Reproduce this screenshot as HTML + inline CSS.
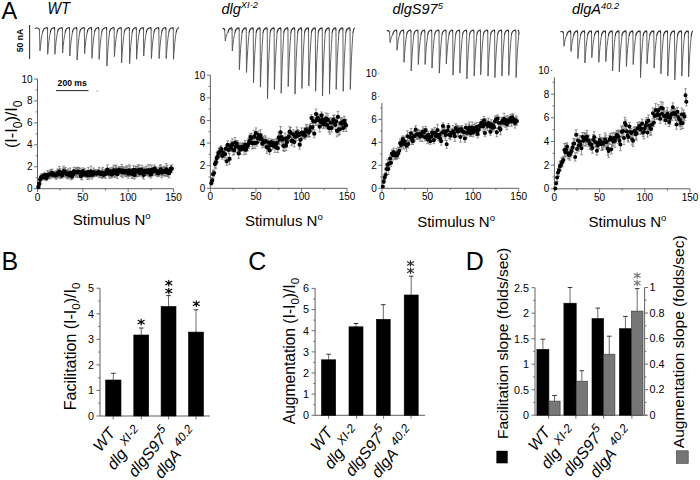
<!DOCTYPE html>
<html><head><meta charset="utf-8"><style>
html,body{margin:0;padding:0;background:#fff;}
svg{display:block;font-family:"Liberation Sans", sans-serif;}
</style></head><body>
<svg width="700" height="480" viewBox="0 0 700 480">
<rect width="700" height="480" fill="#fff"/>
<text x="1.50" y="19.30" font-size="23.5" text-anchor="start" fill="#000" >A</text>
<text x="1.60" y="269.80" font-size="25" text-anchor="start" fill="#000" >B</text>
<text x="248.20" y="269.80" font-size="25" text-anchor="start" fill="#000" >C</text>
<text x="465.80" y="269.70" font-size="25" text-anchor="start" fill="#000" >D</text>
<text x="47.60" y="13.70" font-size="15.6" text-anchor="start" fill="#000" font-style="italic" textLength="22.3" lengthAdjust="spacingAndGlyphs">WT</text>
<text x="221.50" y="13.70" font-size="14.5" text-anchor="start" fill="#000" font-style="italic" >dlg<tspan font-size="9.3" dy="-5.3">XI-2</tspan></text>
<text x="392.50" y="13.70" font-size="14.5" text-anchor="start" fill="#000" font-style="italic" >dlgS97<tspan font-size="9.3" dy="-5">5</tspan></text>
<text x="572.00" y="13.60" font-size="14.5" text-anchor="start" fill="#000" font-style="italic" >dlgA<tspan font-size="9.3" dy="-5">40.2</tspan></text>
<line x1="37.5" y1="79.0" x2="37.5" y2="188.7" stroke="#606060" stroke-width="1"/>
<line x1="33.9" y1="188.70" x2="37.5" y2="188.70" stroke="#606060" stroke-width="0.9"/>
<text x="32.50" y="192.20" font-size="10.0" text-anchor="end" fill="#000" >0</text>
<line x1="35.7" y1="177.73" x2="37.5" y2="177.73" stroke="#606060" stroke-width="0.9"/>
<line x1="33.9" y1="166.76" x2="37.5" y2="166.76" stroke="#606060" stroke-width="0.9"/>
<text x="32.50" y="170.26" font-size="10.0" text-anchor="end" fill="#000" >2</text>
<line x1="35.7" y1="155.79" x2="37.5" y2="155.79" stroke="#606060" stroke-width="0.9"/>
<line x1="33.9" y1="144.82" x2="37.5" y2="144.82" stroke="#606060" stroke-width="0.9"/>
<text x="32.50" y="148.32" font-size="10.0" text-anchor="end" fill="#000" >4</text>
<line x1="35.7" y1="133.85" x2="37.5" y2="133.85" stroke="#606060" stroke-width="0.9"/>
<line x1="33.9" y1="122.88" x2="37.5" y2="122.88" stroke="#606060" stroke-width="0.9"/>
<text x="32.50" y="126.38" font-size="10.0" text-anchor="end" fill="#000" >6</text>
<line x1="35.7" y1="111.91" x2="37.5" y2="111.91" stroke="#606060" stroke-width="0.9"/>
<line x1="33.9" y1="100.94" x2="37.5" y2="100.94" stroke="#606060" stroke-width="0.9"/>
<text x="32.50" y="104.44" font-size="10.0" text-anchor="end" fill="#000" >8</text>
<line x1="35.7" y1="89.97" x2="37.5" y2="89.97" stroke="#606060" stroke-width="0.9"/>
<line x1="33.9" y1="79.00" x2="37.5" y2="79.00" stroke="#606060" stroke-width="0.9"/>
<text x="32.50" y="82.50" font-size="10.0" text-anchor="end" fill="#000" >10</text>
<line x1="37.5" y1="188.7" x2="173.55" y2="188.7" stroke="#606060" stroke-width="1"/>
<line x1="37.50" y1="188.7" x2="37.50" y2="192.1" stroke="#606060" stroke-width="0.9"/>
<text x="37.50" y="200.80" font-size="10.0" text-anchor="middle" fill="#000" >0</text>
<line x1="60.17" y1="188.7" x2="60.17" y2="190.5" stroke="#606060" stroke-width="0.9"/>
<line x1="82.85" y1="188.7" x2="82.85" y2="192.1" stroke="#606060" stroke-width="0.9"/>
<text x="82.85" y="200.80" font-size="10.0" text-anchor="middle" fill="#000" >50</text>
<line x1="105.53" y1="188.7" x2="105.53" y2="190.5" stroke="#606060" stroke-width="0.9"/>
<line x1="128.20" y1="188.7" x2="128.20" y2="192.1" stroke="#606060" stroke-width="0.9"/>
<text x="128.20" y="200.80" font-size="10.0" text-anchor="middle" fill="#000" >100</text>
<line x1="150.88" y1="188.7" x2="150.88" y2="190.5" stroke="#606060" stroke-width="0.9"/>
<line x1="173.55" y1="188.7" x2="173.55" y2="192.1" stroke="#606060" stroke-width="0.9"/>
<text x="173.55" y="200.80" font-size="10.0" text-anchor="middle" fill="#000" >150</text>
<text x="111.70" y="224.60" font-size="15" text-anchor="middle" fill="#000" >Stimulus N<tspan font-size="9.5" dy="-5.6">o</tspan></text>
<line x1="210.4" y1="75.2" x2="210.4" y2="188.3" stroke="#606060" stroke-width="1"/>
<line x1="206.8" y1="188.30" x2="210.4" y2="188.30" stroke="#606060" stroke-width="0.9"/>
<text x="205.40" y="191.80" font-size="10.0" text-anchor="end" fill="#000" >0</text>
<line x1="208.6" y1="176.99" x2="210.4" y2="176.99" stroke="#606060" stroke-width="0.9"/>
<line x1="206.8" y1="165.68" x2="210.4" y2="165.68" stroke="#606060" stroke-width="0.9"/>
<text x="205.40" y="169.18" font-size="10.0" text-anchor="end" fill="#000" >2</text>
<line x1="208.6" y1="154.37" x2="210.4" y2="154.37" stroke="#606060" stroke-width="0.9"/>
<line x1="206.8" y1="143.06" x2="210.4" y2="143.06" stroke="#606060" stroke-width="0.9"/>
<text x="205.40" y="146.56" font-size="10.0" text-anchor="end" fill="#000" >4</text>
<line x1="208.6" y1="131.75" x2="210.4" y2="131.75" stroke="#606060" stroke-width="0.9"/>
<line x1="206.8" y1="120.44" x2="210.4" y2="120.44" stroke="#606060" stroke-width="0.9"/>
<text x="205.40" y="123.94" font-size="10.0" text-anchor="end" fill="#000" >6</text>
<line x1="208.6" y1="109.13" x2="210.4" y2="109.13" stroke="#606060" stroke-width="0.9"/>
<line x1="206.8" y1="97.82" x2="210.4" y2="97.82" stroke="#606060" stroke-width="0.9"/>
<text x="205.40" y="101.32" font-size="10.0" text-anchor="end" fill="#000" >8</text>
<line x1="208.6" y1="86.51" x2="210.4" y2="86.51" stroke="#606060" stroke-width="0.9"/>
<line x1="206.8" y1="75.20" x2="210.4" y2="75.20" stroke="#606060" stroke-width="0.9"/>
<text x="205.40" y="78.70" font-size="10.0" text-anchor="end" fill="#000" >10</text>
<line x1="210.4" y1="188.3" x2="347.05" y2="188.3" stroke="#606060" stroke-width="1"/>
<line x1="210.40" y1="188.3" x2="210.40" y2="191.70000000000002" stroke="#606060" stroke-width="0.9"/>
<text x="210.40" y="200.40" font-size="10.0" text-anchor="middle" fill="#000" >0</text>
<line x1="233.18" y1="188.3" x2="233.18" y2="190.10000000000002" stroke="#606060" stroke-width="0.9"/>
<line x1="255.95" y1="188.3" x2="255.95" y2="191.70000000000002" stroke="#606060" stroke-width="0.9"/>
<text x="255.95" y="200.40" font-size="10.0" text-anchor="middle" fill="#000" >50</text>
<line x1="278.73" y1="188.3" x2="278.73" y2="190.10000000000002" stroke="#606060" stroke-width="0.9"/>
<line x1="301.50" y1="188.3" x2="301.50" y2="191.70000000000002" stroke="#606060" stroke-width="0.9"/>
<text x="301.50" y="200.40" font-size="10.0" text-anchor="middle" fill="#000" >100</text>
<line x1="324.27" y1="188.3" x2="324.27" y2="190.10000000000002" stroke="#606060" stroke-width="0.9"/>
<line x1="347.05" y1="188.3" x2="347.05" y2="191.70000000000002" stroke="#606060" stroke-width="0.9"/>
<text x="347.05" y="200.40" font-size="10.0" text-anchor="middle" fill="#000" >150</text>
<text x="283.80" y="225.60" font-size="15" text-anchor="middle" fill="#000" >Stimulus N<tspan font-size="9.5" dy="-5.6">o</tspan></text>
<line x1="381.9" y1="103.1" x2="381.9" y2="188.3" stroke="#606060" stroke-width="1"/>
<line x1="378.29999999999995" y1="188.30" x2="381.9" y2="188.30" stroke="#606060" stroke-width="0.9"/>
<text x="376.90" y="191.80" font-size="10.0" text-anchor="end" fill="#000" >0</text>
<line x1="380.09999999999997" y1="176.81" x2="381.9" y2="176.81" stroke="#606060" stroke-width="0.9"/>
<line x1="378.29999999999995" y1="165.32" x2="381.9" y2="165.32" stroke="#606060" stroke-width="0.9"/>
<text x="376.90" y="168.82" font-size="10.0" text-anchor="end" fill="#000" >2</text>
<line x1="380.09999999999997" y1="153.83" x2="381.9" y2="153.83" stroke="#606060" stroke-width="0.9"/>
<line x1="378.29999999999995" y1="142.34" x2="381.9" y2="142.34" stroke="#606060" stroke-width="0.9"/>
<text x="376.90" y="145.84" font-size="10.0" text-anchor="end" fill="#000" >4</text>
<line x1="380.09999999999997" y1="130.85" x2="381.9" y2="130.85" stroke="#606060" stroke-width="0.9"/>
<line x1="378.29999999999995" y1="119.36" x2="381.9" y2="119.36" stroke="#606060" stroke-width="0.9"/>
<text x="376.90" y="122.86" font-size="10.0" text-anchor="end" fill="#000" >6</text>
<line x1="380.09999999999997" y1="107.87" x2="381.9" y2="107.87" stroke="#606060" stroke-width="0.9"/>
<line x1="378.29999999999995" y1="96.38" x2="379.4" y2="96.38" stroke="#606060" stroke-width="0.9"/>
<text x="376.90" y="99.88" font-size="10.0" text-anchor="end" fill="#000" >8</text>
<line x1="378.29999999999995" y1="73.40" x2="379.4" y2="73.40" stroke="#606060" stroke-width="0.9"/>
<text x="376.90" y="76.90" font-size="10.0" text-anchor="end" fill="#000" >10</text>
<line x1="381.9" y1="188.3" x2="518.70" y2="188.3" stroke="#606060" stroke-width="1"/>
<line x1="381.90" y1="188.3" x2="381.90" y2="191.70000000000002" stroke="#606060" stroke-width="0.9"/>
<text x="381.90" y="200.40" font-size="10.0" text-anchor="middle" fill="#000" >0</text>
<line x1="404.70" y1="188.3" x2="404.70" y2="190.10000000000002" stroke="#606060" stroke-width="0.9"/>
<line x1="427.50" y1="188.3" x2="427.50" y2="191.70000000000002" stroke="#606060" stroke-width="0.9"/>
<text x="427.50" y="200.40" font-size="10.0" text-anchor="middle" fill="#000" >50</text>
<line x1="450.30" y1="188.3" x2="450.30" y2="190.10000000000002" stroke="#606060" stroke-width="0.9"/>
<line x1="473.10" y1="188.3" x2="473.10" y2="191.70000000000002" stroke="#606060" stroke-width="0.9"/>
<text x="473.10" y="200.40" font-size="10.0" text-anchor="middle" fill="#000" >100</text>
<line x1="495.90" y1="188.3" x2="495.90" y2="190.10000000000002" stroke="#606060" stroke-width="0.9"/>
<line x1="518.70" y1="188.3" x2="518.70" y2="191.70000000000002" stroke="#606060" stroke-width="0.9"/>
<text x="518.70" y="200.40" font-size="10.0" text-anchor="middle" fill="#000" >150</text>
<text x="456.10" y="226.90" font-size="15" text-anchor="middle" fill="#000" >Stimulus N<tspan font-size="9.5" dy="-5.6">o</tspan></text>
<line x1="554.4" y1="77.2" x2="554.4" y2="188.8" stroke="#606060" stroke-width="1"/>
<line x1="550.8" y1="188.80" x2="554.4" y2="188.80" stroke="#606060" stroke-width="0.9"/>
<text x="549.40" y="192.30" font-size="10.0" text-anchor="end" fill="#000" >0</text>
<line x1="552.6" y1="176.97" x2="554.4" y2="176.97" stroke="#606060" stroke-width="0.9"/>
<line x1="550.8" y1="165.14" x2="554.4" y2="165.14" stroke="#606060" stroke-width="0.9"/>
<text x="549.40" y="168.64" font-size="10.0" text-anchor="end" fill="#000" >2</text>
<line x1="552.6" y1="153.31" x2="554.4" y2="153.31" stroke="#606060" stroke-width="0.9"/>
<line x1="550.8" y1="141.48" x2="554.4" y2="141.48" stroke="#606060" stroke-width="0.9"/>
<text x="549.40" y="144.98" font-size="10.0" text-anchor="end" fill="#000" >4</text>
<line x1="552.6" y1="129.65" x2="554.4" y2="129.65" stroke="#606060" stroke-width="0.9"/>
<line x1="550.8" y1="117.82" x2="554.4" y2="117.82" stroke="#606060" stroke-width="0.9"/>
<text x="549.40" y="121.32" font-size="10.0" text-anchor="end" fill="#000" >6</text>
<line x1="552.6" y1="105.99" x2="554.4" y2="105.99" stroke="#606060" stroke-width="0.9"/>
<line x1="550.8" y1="94.16" x2="554.4" y2="94.16" stroke="#606060" stroke-width="0.9"/>
<text x="549.40" y="97.66" font-size="10.0" text-anchor="end" fill="#000" >8</text>
<line x1="552.6" y1="82.33" x2="554.4" y2="82.33" stroke="#606060" stroke-width="0.9"/>
<line x1="550.8" y1="70.50" x2="552.4" y2="70.50" stroke="#606060" stroke-width="0.9"/>
<text x="549.40" y="74.00" font-size="10.0" text-anchor="end" fill="#000" >10</text>
<line x1="554.4" y1="188.8" x2="690.00" y2="188.8" stroke="#606060" stroke-width="1"/>
<line x1="554.40" y1="188.8" x2="554.40" y2="192.20000000000002" stroke="#606060" stroke-width="0.9"/>
<text x="554.40" y="200.90" font-size="10.0" text-anchor="middle" fill="#000" >0</text>
<line x1="577.00" y1="188.8" x2="577.00" y2="190.60000000000002" stroke="#606060" stroke-width="0.9"/>
<line x1="599.60" y1="188.8" x2="599.60" y2="192.20000000000002" stroke="#606060" stroke-width="0.9"/>
<text x="599.60" y="200.90" font-size="10.0" text-anchor="middle" fill="#000" >50</text>
<line x1="622.20" y1="188.8" x2="622.20" y2="190.60000000000002" stroke="#606060" stroke-width="0.9"/>
<line x1="644.80" y1="188.8" x2="644.80" y2="192.20000000000002" stroke="#606060" stroke-width="0.9"/>
<text x="644.80" y="200.90" font-size="10.0" text-anchor="middle" fill="#000" >100</text>
<line x1="667.40" y1="188.8" x2="667.40" y2="190.60000000000002" stroke="#606060" stroke-width="0.9"/>
<line x1="690.00" y1="188.8" x2="690.00" y2="192.20000000000002" stroke="#606060" stroke-width="0.9"/>
<text x="690.00" y="200.90" font-size="10.0" text-anchor="middle" fill="#000" >150</text>
<text x="627.40" y="226.90" font-size="15" text-anchor="middle" fill="#000" >Stimulus N<tspan font-size="9.5" dy="-5.6">o</tspan></text>
<path d="M38.41 185.92V188.19M37.11 185.92h2.6M37.11 188.19h2.6M39.31 182.48V185.05M38.01 182.48h2.6M38.01 185.05h2.6M40.22 177.43V181.32M38.92 177.43h2.6M38.92 181.32h2.6M41.13 174.06V180.31M39.83 174.06h2.6M39.83 180.31h2.6M42.03 174.24V179.03M40.73 174.24h2.6M40.73 179.03h2.6M42.94 173.56V178.60M41.64 173.56h2.6M41.64 178.60h2.6M43.85 175.01V179.76M42.55 175.01h2.6M42.55 179.76h2.6M44.76 172.27V178.15M43.46 172.27h2.6M43.46 178.15h2.6M45.66 174.39V180.73M44.36 174.39h2.6M44.36 180.73h2.6M46.57 174.90V180.52M45.27 174.90h2.6M45.27 180.52h2.6M47.48 170.58V179.29M46.18 170.58h2.6M46.18 179.29h2.6M48.38 172.20V178.34M47.08 172.20h2.6M47.08 178.34h2.6M49.29 171.37V177.83M47.99 171.37h2.6M47.99 177.83h2.6M50.20 169.90V178.73M48.90 169.90h2.6M48.90 178.73h2.6M51.11 169.81V178.03M49.81 169.81h2.6M49.81 178.03h2.6M52.01 169.13V176.56M50.71 169.13h2.6M50.71 176.56h2.6M52.92 172.23V177.52M51.62 172.23h2.6M51.62 177.52h2.6M53.83 171.32V177.42M52.53 171.32h2.6M52.53 177.42h2.6M54.73 171.47V177.92M53.43 171.47h2.6M53.43 177.92h2.6M55.64 171.56V178.95M54.34 171.56h2.6M54.34 178.95h2.6M56.55 170.76V179.17M55.25 170.76h2.6M55.25 179.17h2.6M57.45 169.01V177.76M56.15 169.01h2.6M56.15 177.76h2.6M58.36 169.67V177.51M57.06 169.67h2.6M57.06 177.51h2.6M59.27 166.51V176.94M57.97 166.51h2.6M57.97 176.94h2.6M60.17 168.70V178.62M58.88 168.70h2.6M58.88 178.62h2.6M61.08 171.78V177.41M59.78 171.78h2.6M59.78 177.41h2.6M61.99 172.69V178.19M60.69 172.69h2.6M60.69 178.19h2.6M62.90 167.95V176.25M61.60 167.95h2.6M61.60 176.25h2.6M63.80 166.07V176.22M62.50 166.07h2.6M62.50 176.22h2.6M64.71 168.36V176.86M63.41 168.36h2.6M63.41 176.86h2.6M65.62 167.57V176.85M64.32 167.57h2.6M64.32 176.85h2.6M66.52 169.92V177.94M65.22 169.92h2.6M65.22 177.94h2.6M67.43 169.96V178.85M66.13 169.96h2.6M66.13 178.85h2.6M68.34 168.90V178.60M67.04 168.90h2.6M67.04 178.60h2.6M69.25 172.42V177.66M67.95 172.42h2.6M67.95 177.66h2.6M70.15 168.02V177.15M68.85 168.02h2.6M68.85 177.15h2.6M71.06 171.50V179.71M69.76 171.50h2.6M69.76 179.71h2.6M71.97 173.61V179.29M70.67 173.61h2.6M70.67 179.29h2.6M72.87 171.79V177.06M71.57 171.79h2.6M71.57 177.06h2.6M73.78 167.17V175.62M72.48 167.17h2.6M72.48 175.62h2.6M74.69 169.51V175.53M73.39 169.51h2.6M73.39 175.53h2.6M75.59 167.53V177.12M74.29 167.53h2.6M74.29 177.12h2.6M76.50 168.42V176.15M75.20 168.42h2.6M75.20 176.15h2.6M77.41 167.27V177.37M76.11 167.27h2.6M76.11 177.37h2.6M78.31 167.45V176.18M77.02 167.45h2.6M77.02 176.18h2.6M79.22 167.46V177.53M77.92 167.46h2.6M77.92 177.53h2.6M80.13 168.51V175.75M78.83 168.51h2.6M78.83 175.75h2.6M81.04 172.80V179.18M79.74 172.80h2.6M79.74 179.18h2.6M81.94 170.90V179.81M80.64 170.90h2.6M80.64 179.81h2.6M82.85 167.82V174.71M81.55 167.82h2.6M81.55 174.71h2.6M83.76 169.74V176.41M82.46 169.74h2.6M82.46 176.41h2.6M84.66 168.55V176.63M83.36 168.55h2.6M83.36 176.63h2.6M85.57 171.85V177.03M84.27 171.85h2.6M84.27 177.03h2.6M86.48 170.48V177.65M85.18 170.48h2.6M85.18 177.65h2.6M87.39 170.09V179.32M86.09 170.09h2.6M86.09 179.32h2.6M88.29 167.42V176.74M86.99 167.42h2.6M86.99 176.74h2.6M89.20 171.52V179.23M87.90 171.52h2.6M87.90 179.23h2.6M90.11 170.75V176.41M88.81 170.75h2.6M88.81 176.41h2.6M91.01 166.05V176.67M89.71 166.05h2.6M89.71 176.67h2.6M91.92 170.55V179.06M90.62 170.55h2.6M90.62 179.06h2.6M92.83 171.65V177.26M91.53 171.65h2.6M91.53 177.26h2.6M93.73 167.98V176.86M92.43 167.98h2.6M92.43 176.86h2.6M94.64 169.49V176.14M93.34 169.49h2.6M93.34 176.14h2.6M95.55 169.93V176.26M94.25 169.93h2.6M94.25 176.26h2.6M96.45 170.83V176.25M95.16 170.83h2.6M95.16 176.25h2.6M97.36 169.71V176.05M96.06 169.71h2.6M96.06 176.05h2.6M98.27 169.20V175.15M96.97 169.20h2.6M96.97 175.15h2.6M99.18 167.42V177.47M97.88 167.42h2.6M97.88 177.47h2.6M100.08 170.61V177.10M98.78 170.61h2.6M98.78 177.10h2.6M100.99 170.29V177.24M99.69 170.29h2.6M99.69 177.24h2.6M101.90 169.06V178.35M100.60 169.06h2.6M100.60 178.35h2.6M102.80 167.40V177.92M101.50 167.40h2.6M101.50 177.92h2.6M103.71 172.09V177.51M102.41 172.09h2.6M102.41 177.51h2.6M104.62 169.78V175.90M103.32 169.78h2.6M103.32 175.90h2.6M105.53 169.22V178.37M104.23 169.22h2.6M104.23 178.37h2.6M106.43 168.93V175.54M105.13 168.93h2.6M105.13 175.54h2.6M107.34 165.00V174.38M106.04 165.00h2.6M106.04 174.38h2.6M108.25 169.44V175.84M106.95 169.44h2.6M106.95 175.84h2.6M109.15 169.50V177.41M107.85 169.50h2.6M107.85 177.41h2.6M110.06 168.14V178.29M108.76 168.14h2.6M108.76 178.29h2.6M110.97 167.86V175.22M109.67 167.86h2.6M109.67 175.22h2.6M111.87 171.13V177.88M110.57 171.13h2.6M110.57 177.88h2.6M112.78 167.08V175.87M111.48 167.08h2.6M111.48 175.87h2.6M113.69 165.14V175.71M112.39 165.14h2.6M112.39 175.71h2.6M114.59 168.14V177.66M113.30 168.14h2.6M113.30 177.66h2.6M115.50 165.79V176.97M114.20 165.79h2.6M114.20 176.97h2.6M116.41 165.21V175.93M115.11 165.21h2.6M115.11 175.93h2.6M117.32 169.74V178.36M116.02 169.74h2.6M116.02 178.36h2.6M118.22 167.68V175.50M116.92 167.68h2.6M116.92 175.50h2.6M119.13 166.69V173.30M117.83 166.69h2.6M117.83 173.30h2.6M120.04 166.77V174.45M118.74 166.77h2.6M118.74 174.45h2.6M120.94 166.83V176.38M119.64 166.83h2.6M119.64 176.38h2.6M121.85 164.63V176.10M120.55 164.63h2.6M120.55 176.10h2.6M122.76 167.00V177.67M121.46 167.00h2.6M121.46 177.67h2.6M123.67 166.94V174.39M122.37 166.94h2.6M122.37 174.39h2.6M124.57 168.97V175.84M123.27 168.97h2.6M123.27 175.84h2.6M125.48 167.20V176.33M124.18 167.20h2.6M124.18 176.33h2.6M126.39 165.82V176.63M125.09 165.82h2.6M125.09 176.63h2.6M127.29 166.57V176.05M125.99 166.57h2.6M125.99 176.05h2.6M128.20 169.07V178.17M126.90 169.07h2.6M126.90 178.17h2.6M129.11 164.79V176.07M127.81 164.79h2.6M127.81 176.07h2.6M130.01 166.04V176.27M128.71 166.04h2.6M128.71 176.27h2.6M130.92 168.86V175.56M129.62 168.86h2.6M129.62 175.56h2.6M131.83 169.35V178.30M130.53 169.35h2.6M130.53 178.30h2.6M132.74 168.47V178.45M131.44 168.47h2.6M131.44 178.45h2.6M133.64 165.63V174.27M132.34 165.63h2.6M132.34 174.27h2.6M134.55 170.93V179.03M133.25 170.93h2.6M133.25 179.03h2.6M135.46 166.47V173.83M134.16 166.47h2.6M134.16 173.83h2.6M136.36 166.25V176.90M135.06 166.25h2.6M135.06 176.90h2.6M137.27 166.47V176.63M135.97 166.47h2.6M135.97 176.63h2.6M138.18 164.69V176.32M136.88 164.69h2.6M136.88 176.32h2.6M139.08 164.95V175.03M137.78 164.95h2.6M137.78 175.03h2.6M139.99 170.09V176.24M138.69 170.09h2.6M138.69 176.24h2.6M140.90 167.46V173.82M139.60 167.46h2.6M139.60 173.82h2.6M141.81 165.37V174.73M140.50 165.37h2.6M140.50 174.73h2.6M142.71 167.27V177.62M141.41 167.27h2.6M141.41 177.62h2.6M143.62 170.36V179.04M142.32 170.36h2.6M142.32 179.04h2.6M144.53 167.22V174.54M143.23 167.22h2.6M143.23 174.54h2.6M145.43 168.51V175.59M144.13 168.51h2.6M144.13 175.59h2.6M146.34 166.17V175.51M145.04 166.17h2.6M145.04 175.51h2.6M147.25 168.76V175.29M145.95 168.76h2.6M145.95 175.29h2.6M148.15 164.71V176.02M146.85 164.71h2.6M146.85 176.02h2.6M149.06 168.47V176.97M147.76 168.47h2.6M147.76 176.97h2.6M149.97 164.79V176.05M148.67 164.79h2.6M148.67 176.05h2.6M150.88 170.69V178.09M149.57 170.69h2.6M149.57 178.09h2.6M151.78 165.28V174.67M150.48 165.28h2.6M150.48 174.67h2.6M152.69 167.57V175.80M151.39 167.57h2.6M151.39 175.80h2.6M153.60 167.86V174.87M152.30 167.86h2.6M152.30 174.87h2.6M154.50 164.98V172.38M153.20 164.98h2.6M153.20 172.38h2.6M155.41 166.76V175.41M154.11 166.76h2.6M154.11 175.41h2.6M156.32 167.43V175.21M155.02 167.43h2.6M155.02 175.21h2.6M157.22 168.63V176.82M155.92 168.63h2.6M155.92 176.82h2.6M158.13 170.15V176.19M156.83 170.15h2.6M156.83 176.19h2.6M159.04 167.12V176.01M157.74 167.12h2.6M157.74 176.01h2.6M159.94 165.36V175.82M158.64 165.36h2.6M158.64 175.82h2.6M160.85 164.71V173.97M159.55 164.71h2.6M159.55 173.97h2.6M161.76 167.53V177.69M160.46 167.53h2.6M160.46 177.69h2.6M162.67 166.96V175.40M161.37 166.96h2.6M161.37 175.40h2.6M163.57 167.10V175.79M162.27 167.10h2.6M162.27 175.79h2.6M164.48 166.27V176.03M163.18 166.27h2.6M163.18 176.03h2.6M165.39 167.51V175.91M164.09 167.51h2.6M164.09 175.91h2.6M166.29 163.66V175.32M164.99 163.66h2.6M164.99 175.32h2.6M167.20 165.30V176.50M165.90 165.30h2.6M165.90 176.50h2.6M168.11 169.27V176.19M166.81 169.27h2.6M166.81 176.19h2.6M169.02 168.35V177.89M167.72 168.35h2.6M167.72 177.89h2.6M169.92 167.75V174.59M168.62 167.75h2.6M168.62 174.59h2.6M170.83 165.36V172.21M169.53 165.36h2.6M169.53 172.21h2.6M171.74 164.92V172.70M170.44 164.92h2.6M170.44 172.70h2.6" stroke="#707070" stroke-width="0.75" fill="none"/>
<path d="M36.21 187.05a2.2 2.2 0 1 0 4.4 0a2.2 2.2 0 1 0 -4.4 0M37.11 183.76a2.2 2.2 0 1 0 4.4 0a2.2 2.2 0 1 0 -4.4 0M38.02 179.38a2.2 2.2 0 1 0 4.4 0a2.2 2.2 0 1 0 -4.4 0M38.93 177.18a2.2 2.2 0 1 0 4.4 0a2.2 2.2 0 1 0 -4.4 0M39.83 176.63a2.2 2.2 0 1 0 4.4 0a2.2 2.2 0 1 0 -4.4 0M40.74 176.08a2.2 2.2 0 1 0 4.4 0a2.2 2.2 0 1 0 -4.4 0M41.65 177.38a2.2 2.2 0 1 0 4.4 0a2.2 2.2 0 1 0 -4.4 0M42.56 175.21a2.2 2.2 0 1 0 4.4 0a2.2 2.2 0 1 0 -4.4 0M43.46 177.56a2.2 2.2 0 1 0 4.4 0a2.2 2.2 0 1 0 -4.4 0M44.37 177.71a2.2 2.2 0 1 0 4.4 0a2.2 2.2 0 1 0 -4.4 0M45.28 174.94a2.2 2.2 0 1 0 4.4 0a2.2 2.2 0 1 0 -4.4 0M46.18 175.27a2.2 2.2 0 1 0 4.4 0a2.2 2.2 0 1 0 -4.4 0M47.09 174.60a2.2 2.2 0 1 0 4.4 0a2.2 2.2 0 1 0 -4.4 0M48.00 174.32a2.2 2.2 0 1 0 4.4 0a2.2 2.2 0 1 0 -4.4 0M48.91 173.92a2.2 2.2 0 1 0 4.4 0a2.2 2.2 0 1 0 -4.4 0M49.81 172.84a2.2 2.2 0 1 0 4.4 0a2.2 2.2 0 1 0 -4.4 0M50.72 174.87a2.2 2.2 0 1 0 4.4 0a2.2 2.2 0 1 0 -4.4 0M51.63 174.37a2.2 2.2 0 1 0 4.4 0a2.2 2.2 0 1 0 -4.4 0M52.53 174.69a2.2 2.2 0 1 0 4.4 0a2.2 2.2 0 1 0 -4.4 0M53.44 175.26a2.2 2.2 0 1 0 4.4 0a2.2 2.2 0 1 0 -4.4 0M54.35 174.97a2.2 2.2 0 1 0 4.4 0a2.2 2.2 0 1 0 -4.4 0M55.25 173.39a2.2 2.2 0 1 0 4.4 0a2.2 2.2 0 1 0 -4.4 0M56.16 173.59a2.2 2.2 0 1 0 4.4 0a2.2 2.2 0 1 0 -4.4 0M57.07 171.72a2.2 2.2 0 1 0 4.4 0a2.2 2.2 0 1 0 -4.4 0M57.97 173.66a2.2 2.2 0 1 0 4.4 0a2.2 2.2 0 1 0 -4.4 0M58.88 174.60a2.2 2.2 0 1 0 4.4 0a2.2 2.2 0 1 0 -4.4 0M59.79 175.44a2.2 2.2 0 1 0 4.4 0a2.2 2.2 0 1 0 -4.4 0M60.70 172.10a2.2 2.2 0 1 0 4.4 0a2.2 2.2 0 1 0 -4.4 0M61.60 171.14a2.2 2.2 0 1 0 4.4 0a2.2 2.2 0 1 0 -4.4 0M62.51 172.61a2.2 2.2 0 1 0 4.4 0a2.2 2.2 0 1 0 -4.4 0M63.42 172.21a2.2 2.2 0 1 0 4.4 0a2.2 2.2 0 1 0 -4.4 0M64.32 173.93a2.2 2.2 0 1 0 4.4 0a2.2 2.2 0 1 0 -4.4 0M65.23 174.40a2.2 2.2 0 1 0 4.4 0a2.2 2.2 0 1 0 -4.4 0M66.14 173.75a2.2 2.2 0 1 0 4.4 0a2.2 2.2 0 1 0 -4.4 0M67.05 175.04a2.2 2.2 0 1 0 4.4 0a2.2 2.2 0 1 0 -4.4 0M67.95 172.58a2.2 2.2 0 1 0 4.4 0a2.2 2.2 0 1 0 -4.4 0M68.86 175.60a2.2 2.2 0 1 0 4.4 0a2.2 2.2 0 1 0 -4.4 0M69.77 176.45a2.2 2.2 0 1 0 4.4 0a2.2 2.2 0 1 0 -4.4 0M70.67 174.42a2.2 2.2 0 1 0 4.4 0a2.2 2.2 0 1 0 -4.4 0M71.58 171.40a2.2 2.2 0 1 0 4.4 0a2.2 2.2 0 1 0 -4.4 0M72.49 172.52a2.2 2.2 0 1 0 4.4 0a2.2 2.2 0 1 0 -4.4 0M73.39 172.33a2.2 2.2 0 1 0 4.4 0a2.2 2.2 0 1 0 -4.4 0M74.30 172.28a2.2 2.2 0 1 0 4.4 0a2.2 2.2 0 1 0 -4.4 0M75.21 172.32a2.2 2.2 0 1 0 4.4 0a2.2 2.2 0 1 0 -4.4 0M76.11 171.82a2.2 2.2 0 1 0 4.4 0a2.2 2.2 0 1 0 -4.4 0M77.02 172.50a2.2 2.2 0 1 0 4.4 0a2.2 2.2 0 1 0 -4.4 0M77.93 172.13a2.2 2.2 0 1 0 4.4 0a2.2 2.2 0 1 0 -4.4 0M78.84 175.99a2.2 2.2 0 1 0 4.4 0a2.2 2.2 0 1 0 -4.4 0M79.74 175.35a2.2 2.2 0 1 0 4.4 0a2.2 2.2 0 1 0 -4.4 0M80.65 171.27a2.2 2.2 0 1 0 4.4 0a2.2 2.2 0 1 0 -4.4 0M81.56 173.08a2.2 2.2 0 1 0 4.4 0a2.2 2.2 0 1 0 -4.4 0M82.46 172.59a2.2 2.2 0 1 0 4.4 0a2.2 2.2 0 1 0 -4.4 0M83.37 174.44a2.2 2.2 0 1 0 4.4 0a2.2 2.2 0 1 0 -4.4 0M84.28 174.07a2.2 2.2 0 1 0 4.4 0a2.2 2.2 0 1 0 -4.4 0M85.19 174.71a2.2 2.2 0 1 0 4.4 0a2.2 2.2 0 1 0 -4.4 0M86.09 172.08a2.2 2.2 0 1 0 4.4 0a2.2 2.2 0 1 0 -4.4 0M87.00 175.38a2.2 2.2 0 1 0 4.4 0a2.2 2.2 0 1 0 -4.4 0M87.91 173.58a2.2 2.2 0 1 0 4.4 0a2.2 2.2 0 1 0 -4.4 0M88.81 171.36a2.2 2.2 0 1 0 4.4 0a2.2 2.2 0 1 0 -4.4 0M89.72 174.81a2.2 2.2 0 1 0 4.4 0a2.2 2.2 0 1 0 -4.4 0M90.63 174.45a2.2 2.2 0 1 0 4.4 0a2.2 2.2 0 1 0 -4.4 0M91.53 172.42a2.2 2.2 0 1 0 4.4 0a2.2 2.2 0 1 0 -4.4 0M92.44 172.82a2.2 2.2 0 1 0 4.4 0a2.2 2.2 0 1 0 -4.4 0M93.35 173.10a2.2 2.2 0 1 0 4.4 0a2.2 2.2 0 1 0 -4.4 0M94.25 173.54a2.2 2.2 0 1 0 4.4 0a2.2 2.2 0 1 0 -4.4 0M95.16 172.88a2.2 2.2 0 1 0 4.4 0a2.2 2.2 0 1 0 -4.4 0M96.07 172.18a2.2 2.2 0 1 0 4.4 0a2.2 2.2 0 1 0 -4.4 0M96.98 172.45a2.2 2.2 0 1 0 4.4 0a2.2 2.2 0 1 0 -4.4 0M97.88 173.85a2.2 2.2 0 1 0 4.4 0a2.2 2.2 0 1 0 -4.4 0M98.79 173.76a2.2 2.2 0 1 0 4.4 0a2.2 2.2 0 1 0 -4.4 0M99.70 173.70a2.2 2.2 0 1 0 4.4 0a2.2 2.2 0 1 0 -4.4 0M100.60 172.66a2.2 2.2 0 1 0 4.4 0a2.2 2.2 0 1 0 -4.4 0M101.51 174.80a2.2 2.2 0 1 0 4.4 0a2.2 2.2 0 1 0 -4.4 0M102.42 172.84a2.2 2.2 0 1 0 4.4 0a2.2 2.2 0 1 0 -4.4 0M103.33 173.79a2.2 2.2 0 1 0 4.4 0a2.2 2.2 0 1 0 -4.4 0M104.23 172.23a2.2 2.2 0 1 0 4.4 0a2.2 2.2 0 1 0 -4.4 0M105.14 169.69a2.2 2.2 0 1 0 4.4 0a2.2 2.2 0 1 0 -4.4 0M106.05 172.64a2.2 2.2 0 1 0 4.4 0a2.2 2.2 0 1 0 -4.4 0M106.95 173.46a2.2 2.2 0 1 0 4.4 0a2.2 2.2 0 1 0 -4.4 0M107.86 173.21a2.2 2.2 0 1 0 4.4 0a2.2 2.2 0 1 0 -4.4 0M108.77 171.54a2.2 2.2 0 1 0 4.4 0a2.2 2.2 0 1 0 -4.4 0M109.67 174.50a2.2 2.2 0 1 0 4.4 0a2.2 2.2 0 1 0 -4.4 0M110.58 171.47a2.2 2.2 0 1 0 4.4 0a2.2 2.2 0 1 0 -4.4 0M111.49 170.43a2.2 2.2 0 1 0 4.4 0a2.2 2.2 0 1 0 -4.4 0M112.39 172.90a2.2 2.2 0 1 0 4.4 0a2.2 2.2 0 1 0 -4.4 0M113.30 171.38a2.2 2.2 0 1 0 4.4 0a2.2 2.2 0 1 0 -4.4 0M114.21 170.57a2.2 2.2 0 1 0 4.4 0a2.2 2.2 0 1 0 -4.4 0M115.12 174.05a2.2 2.2 0 1 0 4.4 0a2.2 2.2 0 1 0 -4.4 0M116.02 171.59a2.2 2.2 0 1 0 4.4 0a2.2 2.2 0 1 0 -4.4 0M116.93 169.99a2.2 2.2 0 1 0 4.4 0a2.2 2.2 0 1 0 -4.4 0M117.84 170.61a2.2 2.2 0 1 0 4.4 0a2.2 2.2 0 1 0 -4.4 0M118.74 171.60a2.2 2.2 0 1 0 4.4 0a2.2 2.2 0 1 0 -4.4 0M119.65 170.37a2.2 2.2 0 1 0 4.4 0a2.2 2.2 0 1 0 -4.4 0M120.56 172.33a2.2 2.2 0 1 0 4.4 0a2.2 2.2 0 1 0 -4.4 0M121.47 170.67a2.2 2.2 0 1 0 4.4 0a2.2 2.2 0 1 0 -4.4 0M122.37 172.40a2.2 2.2 0 1 0 4.4 0a2.2 2.2 0 1 0 -4.4 0M123.28 171.76a2.2 2.2 0 1 0 4.4 0a2.2 2.2 0 1 0 -4.4 0M124.19 171.22a2.2 2.2 0 1 0 4.4 0a2.2 2.2 0 1 0 -4.4 0M125.09 171.31a2.2 2.2 0 1 0 4.4 0a2.2 2.2 0 1 0 -4.4 0M126.00 173.62a2.2 2.2 0 1 0 4.4 0a2.2 2.2 0 1 0 -4.4 0M126.91 170.43a2.2 2.2 0 1 0 4.4 0a2.2 2.2 0 1 0 -4.4 0M127.81 171.16a2.2 2.2 0 1 0 4.4 0a2.2 2.2 0 1 0 -4.4 0M128.72 172.21a2.2 2.2 0 1 0 4.4 0a2.2 2.2 0 1 0 -4.4 0M129.63 173.83a2.2 2.2 0 1 0 4.4 0a2.2 2.2 0 1 0 -4.4 0M130.54 173.46a2.2 2.2 0 1 0 4.4 0a2.2 2.2 0 1 0 -4.4 0M131.44 169.95a2.2 2.2 0 1 0 4.4 0a2.2 2.2 0 1 0 -4.4 0M132.35 174.98a2.2 2.2 0 1 0 4.4 0a2.2 2.2 0 1 0 -4.4 0M133.26 170.15a2.2 2.2 0 1 0 4.4 0a2.2 2.2 0 1 0 -4.4 0M134.16 171.58a2.2 2.2 0 1 0 4.4 0a2.2 2.2 0 1 0 -4.4 0M135.07 171.55a2.2 2.2 0 1 0 4.4 0a2.2 2.2 0 1 0 -4.4 0M135.98 170.50a2.2 2.2 0 1 0 4.4 0a2.2 2.2 0 1 0 -4.4 0M136.88 169.99a2.2 2.2 0 1 0 4.4 0a2.2 2.2 0 1 0 -4.4 0M137.79 173.16a2.2 2.2 0 1 0 4.4 0a2.2 2.2 0 1 0 -4.4 0M138.70 170.64a2.2 2.2 0 1 0 4.4 0a2.2 2.2 0 1 0 -4.4 0M139.61 170.05a2.2 2.2 0 1 0 4.4 0a2.2 2.2 0 1 0 -4.4 0M140.51 172.45a2.2 2.2 0 1 0 4.4 0a2.2 2.2 0 1 0 -4.4 0M141.42 174.70a2.2 2.2 0 1 0 4.4 0a2.2 2.2 0 1 0 -4.4 0M142.33 170.88a2.2 2.2 0 1 0 4.4 0a2.2 2.2 0 1 0 -4.4 0M143.23 172.05a2.2 2.2 0 1 0 4.4 0a2.2 2.2 0 1 0 -4.4 0M144.14 170.84a2.2 2.2 0 1 0 4.4 0a2.2 2.2 0 1 0 -4.4 0M145.05 172.03a2.2 2.2 0 1 0 4.4 0a2.2 2.2 0 1 0 -4.4 0M145.95 170.37a2.2 2.2 0 1 0 4.4 0a2.2 2.2 0 1 0 -4.4 0M146.86 172.72a2.2 2.2 0 1 0 4.4 0a2.2 2.2 0 1 0 -4.4 0M147.77 170.42a2.2 2.2 0 1 0 4.4 0a2.2 2.2 0 1 0 -4.4 0M148.68 174.39a2.2 2.2 0 1 0 4.4 0a2.2 2.2 0 1 0 -4.4 0M149.58 169.97a2.2 2.2 0 1 0 4.4 0a2.2 2.2 0 1 0 -4.4 0M150.49 171.69a2.2 2.2 0 1 0 4.4 0a2.2 2.2 0 1 0 -4.4 0M151.40 171.36a2.2 2.2 0 1 0 4.4 0a2.2 2.2 0 1 0 -4.4 0M152.30 168.68a2.2 2.2 0 1 0 4.4 0a2.2 2.2 0 1 0 -4.4 0M153.21 171.08a2.2 2.2 0 1 0 4.4 0a2.2 2.2 0 1 0 -4.4 0M154.12 171.32a2.2 2.2 0 1 0 4.4 0a2.2 2.2 0 1 0 -4.4 0M155.02 172.73a2.2 2.2 0 1 0 4.4 0a2.2 2.2 0 1 0 -4.4 0M155.93 173.17a2.2 2.2 0 1 0 4.4 0a2.2 2.2 0 1 0 -4.4 0M156.84 171.56a2.2 2.2 0 1 0 4.4 0a2.2 2.2 0 1 0 -4.4 0M157.75 170.59a2.2 2.2 0 1 0 4.4 0a2.2 2.2 0 1 0 -4.4 0M158.65 169.34a2.2 2.2 0 1 0 4.4 0a2.2 2.2 0 1 0 -4.4 0M159.56 172.61a2.2 2.2 0 1 0 4.4 0a2.2 2.2 0 1 0 -4.4 0M160.47 171.18a2.2 2.2 0 1 0 4.4 0a2.2 2.2 0 1 0 -4.4 0M161.37 171.45a2.2 2.2 0 1 0 4.4 0a2.2 2.2 0 1 0 -4.4 0M162.28 171.15a2.2 2.2 0 1 0 4.4 0a2.2 2.2 0 1 0 -4.4 0M163.19 171.71a2.2 2.2 0 1 0 4.4 0a2.2 2.2 0 1 0 -4.4 0M164.09 169.49a2.2 2.2 0 1 0 4.4 0a2.2 2.2 0 1 0 -4.4 0M165.00 170.90a2.2 2.2 0 1 0 4.4 0a2.2 2.2 0 1 0 -4.4 0M165.91 172.73a2.2 2.2 0 1 0 4.4 0a2.2 2.2 0 1 0 -4.4 0M166.82 173.12a2.2 2.2 0 1 0 4.4 0a2.2 2.2 0 1 0 -4.4 0M167.72 171.17a2.2 2.2 0 1 0 4.4 0a2.2 2.2 0 1 0 -4.4 0M168.63 168.79a2.2 2.2 0 1 0 4.4 0a2.2 2.2 0 1 0 -4.4 0M169.54 168.81a2.2 2.2 0 1 0 4.4 0a2.2 2.2 0 1 0 -4.4 0" fill="#000"/>
<path d="M211.31 181.13V185.30M210.01 181.13h2.6M210.01 185.30h2.6M212.22 177.44V183.32M210.92 177.44h2.6M210.92 183.32h2.6M213.13 170.13V178.20M211.83 170.13h2.6M211.83 178.20h2.6M214.04 169.95V176.11M212.74 169.95h2.6M212.74 176.11h2.6M214.96 160.03V167.93M213.66 160.03h2.6M213.66 167.93h2.6M215.87 156.25V168.33M214.57 156.25h2.6M214.57 168.33h2.6M216.78 152.18V164.47M215.48 152.18h2.6M215.48 164.47h2.6M217.69 150.93V162.33M216.39 150.93h2.6M216.39 162.33h2.6M218.60 148.44V158.03M217.30 148.44h2.6M217.30 158.03h2.6M219.51 147.82V156.40M218.21 147.82h2.6M218.21 156.40h2.6M220.42 146.28V157.04M219.12 146.28h2.6M219.12 157.04h2.6M221.33 145.78V152.54M220.03 145.78h2.6M220.03 152.54h2.6M222.24 152.41V159.17M220.94 152.41h2.6M220.94 159.17h2.6M223.15 148.54V157.08M221.85 148.54h2.6M221.85 157.08h2.6M224.06 150.75V157.77M222.76 150.75h2.6M222.76 157.77h2.6M224.98 148.19V160.46M223.68 148.19h2.6M223.68 160.46h2.6M225.89 145.13V152.38M224.59 145.13h2.6M224.59 152.38h2.6M226.80 157.21V165.37M225.50 157.21h2.6M225.50 165.37h2.6M227.71 140.86V149.05M226.41 140.86h2.6M226.41 149.05h2.6M228.62 146.20V153.59M227.32 146.20h2.6M227.32 153.59h2.6M229.53 153.25V164.56M228.23 153.25h2.6M228.23 164.56h2.6M230.44 143.28V151.41M229.14 143.28h2.6M229.14 151.41h2.6M231.35 141.15V151.06M230.05 141.15h2.6M230.05 151.06h2.6M232.26 138.81V149.45M230.96 138.81h2.6M230.96 149.45h2.6M233.18 144.57V155.14M231.88 144.57h2.6M231.88 155.14h2.6M234.09 145.62V154.70M232.79 145.62h2.6M232.79 154.70h2.6M235.00 137.46V147.73M233.70 137.46h2.6M233.70 147.73h2.6M235.91 141.04V152.26M234.61 141.04h2.6M234.61 152.26h2.6M236.82 140.46V147.49M235.52 140.46h2.6M235.52 147.49h2.6M237.73 140.82V152.39M236.43 140.82h2.6M236.43 152.39h2.6M238.64 148.52V158.33M237.34 148.52h2.6M237.34 158.33h2.6M239.55 142.76V154.70M238.25 142.76h2.6M238.25 154.70h2.6M240.46 144.79V154.45M239.16 144.79h2.6M239.16 154.45h2.6M241.37 143.04V151.05M240.07 143.04h2.6M240.07 151.05h2.6M242.28 143.48V150.42M240.98 143.48h2.6M240.98 150.42h2.6M243.20 143.03V150.83M241.90 143.03h2.6M241.90 150.83h2.6M244.11 143.79V154.77M242.81 143.79h2.6M242.81 154.77h2.6M245.02 140.51V148.81M243.72 140.51h2.6M243.72 148.81h2.6M245.93 145.45V154.08M244.63 145.45h2.6M244.63 154.08h2.6M246.84 143.64V150.40M245.54 143.64h2.6M245.54 150.40h2.6M247.75 140.14V150.96M246.45 140.14h2.6M246.45 150.96h2.6M248.66 138.51V148.30M247.36 138.51h2.6M247.36 148.30h2.6M249.57 135.00V146.98M248.27 135.00h2.6M248.27 146.98h2.6M250.48 133.46V140.71M249.18 133.46h2.6M249.18 140.71h2.6M251.40 133.21V142.69M250.09 133.21h2.6M250.09 142.69h2.6M252.31 137.56V148.97M251.01 137.56h2.6M251.01 148.97h2.6M253.22 137.73V148.30M251.92 137.73h2.6M251.92 148.30h2.6M254.13 130.36V142.61M252.83 130.36h2.6M252.83 142.61h2.6M255.04 137.87V148.55M253.74 137.87h2.6M253.74 148.55h2.6M255.95 127.90V138.17M254.65 127.90h2.6M254.65 138.17h2.6M256.86 139.12V146.08M255.56 139.12h2.6M255.56 146.08h2.6M257.77 134.53V141.92M256.47 134.53h2.6M256.47 141.92h2.6M258.68 131.04V139.15M257.38 131.04h2.6M257.38 139.15h2.6M259.59 134.86V142.44M258.29 134.86h2.6M258.29 142.44h2.6M260.50 129.76V141.37M259.20 129.76h2.6M259.20 141.37h2.6M261.42 133.60V144.08M260.12 133.60h2.6M260.12 144.08h2.6M262.33 139.63V147.95M261.03 139.63h2.6M261.03 147.95h2.6M263.24 136.43V145.70M261.94 136.43h2.6M261.94 145.70h2.6M264.15 138.15V146.30M262.85 138.15h2.6M262.85 146.30h2.6M265.06 135.60V147.73M263.76 135.60h2.6M263.76 147.73h2.6M265.97 137.02V145.06M264.67 137.02h2.6M264.67 145.06h2.6M266.88 141.20V153.36M265.58 141.20h2.6M265.58 153.36h2.6M267.79 144.26V150.91M266.49 144.26h2.6M266.49 150.91h2.6M268.70 138.30V147.13M267.40 138.30h2.6M267.40 147.13h2.6M269.62 146.48V154.27M268.31 146.48h2.6M268.31 154.27h2.6M270.53 140.21V149.74M269.23 140.21h2.6M269.23 149.74h2.6M271.44 138.92V146.08M270.14 138.92h2.6M270.14 146.08h2.6M272.35 140.76V149.69M271.05 140.76h2.6M271.05 149.69h2.6M273.26 139.53V147.91M271.96 139.53h2.6M271.96 147.91h2.6M274.17 139.51V147.48M272.87 139.51h2.6M272.87 147.48h2.6M275.08 141.49V152.42M273.78 141.49h2.6M273.78 152.42h2.6M275.99 139.31V149.71M274.69 139.31h2.6M274.69 149.71h2.6M276.90 138.52V147.39M275.60 138.52h2.6M275.60 147.39h2.6M277.81 143.94V152.45M276.51 143.94h2.6M276.51 152.45h2.6M278.73 132.10V142.88M277.43 132.10h2.6M277.43 142.88h2.6M279.64 134.55V144.87M278.34 134.55h2.6M278.34 144.87h2.6M280.55 126.43V138.17M279.25 126.43h2.6M279.25 138.17h2.6M281.46 132.06V142.29M280.16 132.06h2.6M280.16 142.29h2.6M282.37 135.98V143.42M281.07 135.98h2.6M281.07 143.42h2.6M283.28 141.00V150.63M281.98 141.00h2.6M281.98 150.63h2.6M284.19 140.33V151.56M282.89 140.33h2.6M282.89 151.56h2.6M285.10 133.00V144.36M283.80 133.00h2.6M283.80 144.36h2.6M286.01 140.06V150.60M284.71 140.06h2.6M284.71 150.60h2.6M286.92 136.93V147.54M285.62 136.93h2.6M285.62 147.54h2.6M287.84 134.14V141.55M286.54 134.14h2.6M286.54 141.55h2.6M288.75 132.37V141.08M287.45 132.37h2.6M287.45 141.08h2.6M289.66 126.71V136.54M288.36 126.71h2.6M288.36 136.54h2.6M290.57 127.53V137.76M289.27 127.53h2.6M289.27 137.76h2.6M291.48 136.20V145.64M290.18 136.20h2.6M290.18 145.64h2.6M292.39 137.36V144.03M291.09 137.36h2.6M291.09 144.03h2.6M293.30 129.63V139.15M292.00 129.63h2.6M292.00 139.15h2.6M294.21 137.24V146.94M292.91 137.24h2.6M292.91 146.94h2.6M295.12 131.05V141.90M293.82 131.05h2.6M293.82 141.90h2.6M296.03 132.58V140.67M294.73 132.58h2.6M294.73 140.67h2.6M296.94 127.04V137.85M295.64 127.04h2.6M295.64 137.85h2.6M297.86 129.59V137.41M296.56 129.59h2.6M296.56 137.41h2.6M298.77 130.51V139.98M297.47 130.51h2.6M297.47 139.98h2.6M299.68 140.34V149.18M298.38 140.34h2.6M298.38 149.18h2.6M300.59 134.28V145.31M299.29 134.28h2.6M299.29 145.31h2.6M301.50 127.88V138.05M300.20 127.88h2.6M300.20 138.05h2.6M302.41 130.66V138.16M301.11 130.66h2.6M301.11 138.16h2.6M303.32 130.32V138.42M302.02 130.32h2.6M302.02 138.42h2.6M304.23 128.08V137.96M302.93 128.08h2.6M302.93 137.96h2.6M305.14 132.51V139.23M303.84 132.51h2.6M303.84 139.23h2.6M306.06 124.25V134.73M304.75 124.25h2.6M304.75 134.73h2.6M306.97 125.00V135.59M305.67 125.00h2.6M305.67 135.59h2.6M307.88 127.18V136.77M306.58 127.18h2.6M306.58 136.77h2.6M308.79 127.85V137.15M307.49 127.85h2.6M307.49 137.15h2.6M309.70 124.78V136.52M308.40 124.78h2.6M308.40 136.52h2.6M310.61 123.57V131.36M309.31 123.57h2.6M309.31 131.36h2.6M311.52 114.67V121.42M310.22 114.67h2.6M310.22 121.42h2.6M312.43 122.70V131.96M311.13 122.70h2.6M311.13 131.96h2.6M313.34 116.44V125.66M312.04 116.44h2.6M312.04 125.66h2.6M314.25 129.63V137.81M312.95 129.63h2.6M312.95 137.81h2.6M315.17 117.59V125.44M313.87 117.59h2.6M313.87 125.44h2.6M316.08 109.11V119.08M314.78 109.11h2.6M314.78 119.08h2.6M316.99 113.34V125.42M315.69 113.34h2.6M315.69 125.42h2.6M317.90 114.22V121.63M316.60 114.22h2.6M316.60 121.63h2.6M318.81 114.25V125.95M317.51 114.25h2.6M317.51 125.95h2.6M319.72 121.36V132.02M318.42 121.36h2.6M318.42 132.02h2.6M320.63 117.36V126.78M319.33 117.36h2.6M319.33 126.78h2.6M321.54 111.96V118.75M320.24 111.96h2.6M320.24 118.75h2.6M322.45 114.91V124.13M321.15 114.91h2.6M321.15 124.13h2.6M323.36 120.19V128.56M322.06 120.19h2.6M322.06 128.56h2.6M324.27 118.50V126.95M322.97 118.50h2.6M322.97 126.95h2.6M325.19 116.57V128.01M323.89 116.57h2.6M323.89 128.01h2.6M326.10 112.95V124.38M324.80 112.95h2.6M324.80 124.38h2.6M327.01 121.40V128.73M325.71 121.40h2.6M325.71 128.73h2.6M327.92 113.86V125.65M326.62 113.86h2.6M326.62 125.65h2.6M328.83 123.81V132.11M327.53 123.81h2.6M327.53 132.11h2.6M329.74 121.80V134.14M328.44 121.80h2.6M328.44 134.14h2.6M330.65 117.59V127.60M329.35 117.59h2.6M329.35 127.60h2.6M331.56 123.91V132.13M330.26 123.91h2.6M330.26 132.13h2.6M332.47 118.89V125.82M331.17 118.89h2.6M331.17 125.82h2.6M333.38 115.53V123.81M332.08 115.53h2.6M332.08 123.81h2.6M334.30 114.85V126.83M333.00 114.85h2.6M333.00 126.83h2.6M335.21 120.06V129.62M333.91 120.06h2.6M333.91 129.62h2.6M336.12 117.62V125.36M334.82 117.62h2.6M334.82 125.36h2.6M337.03 125.06V136.75M335.73 125.06h2.6M335.73 136.75h2.6M337.94 111.32V122.60M336.64 111.32h2.6M336.64 122.60h2.6M338.85 123.28V135.29M337.55 123.28h2.6M337.55 135.29h2.6M339.76 124.50V134.28M338.46 124.50h2.6M338.46 134.28h2.6M340.67 117.64V128.46M339.37 117.64h2.6M339.37 128.46h2.6M341.58 119.07V128.29M340.28 119.07h2.6M340.28 128.29h2.6M342.50 117.90V126.18M341.19 117.90h2.6M341.19 126.18h2.6M343.41 124.54V131.47M342.11 124.54h2.6M342.11 131.47h2.6M344.32 116.35V125.69M343.02 116.35h2.6M343.02 125.69h2.6M345.23 119.74V128.35M343.93 119.74h2.6M343.93 128.35h2.6M346.14 119.25V131.47M344.84 119.25h2.6M344.84 131.47h2.6" stroke="#707070" stroke-width="0.75" fill="none"/>
<path d="M209.16 183.21a2.15 2.15 0 1 0 4.3 0a2.15 2.15 0 1 0 -4.3 0M210.07 180.38a2.15 2.15 0 1 0 4.3 0a2.15 2.15 0 1 0 -4.3 0M210.98 174.16a2.15 2.15 0 1 0 4.3 0a2.15 2.15 0 1 0 -4.3 0M211.89 173.03a2.15 2.15 0 1 0 4.3 0a2.15 2.15 0 1 0 -4.3 0M212.81 163.98a2.15 2.15 0 1 0 4.3 0a2.15 2.15 0 1 0 -4.3 0M213.72 162.29a2.15 2.15 0 1 0 4.3 0a2.15 2.15 0 1 0 -4.3 0M214.63 158.33a2.15 2.15 0 1 0 4.3 0a2.15 2.15 0 1 0 -4.3 0M215.54 156.63a2.15 2.15 0 1 0 4.3 0a2.15 2.15 0 1 0 -4.3 0M216.45 153.24a2.15 2.15 0 1 0 4.3 0a2.15 2.15 0 1 0 -4.3 0M217.36 152.11a2.15 2.15 0 1 0 4.3 0a2.15 2.15 0 1 0 -4.3 0M218.27 151.66a2.15 2.15 0 1 0 4.3 0a2.15 2.15 0 1 0 -4.3 0M219.18 149.16a2.15 2.15 0 1 0 4.3 0a2.15 2.15 0 1 0 -4.3 0M220.09 155.79a2.15 2.15 0 1 0 4.3 0a2.15 2.15 0 1 0 -4.3 0M221.00 152.81a2.15 2.15 0 1 0 4.3 0a2.15 2.15 0 1 0 -4.3 0M221.91 154.26a2.15 2.15 0 1 0 4.3 0a2.15 2.15 0 1 0 -4.3 0M222.83 154.33a2.15 2.15 0 1 0 4.3 0a2.15 2.15 0 1 0 -4.3 0M223.74 148.75a2.15 2.15 0 1 0 4.3 0a2.15 2.15 0 1 0 -4.3 0M224.65 161.29a2.15 2.15 0 1 0 4.3 0a2.15 2.15 0 1 0 -4.3 0M225.56 144.95a2.15 2.15 0 1 0 4.3 0a2.15 2.15 0 1 0 -4.3 0M226.47 149.90a2.15 2.15 0 1 0 4.3 0a2.15 2.15 0 1 0 -4.3 0M227.38 158.91a2.15 2.15 0 1 0 4.3 0a2.15 2.15 0 1 0 -4.3 0M228.29 147.34a2.15 2.15 0 1 0 4.3 0a2.15 2.15 0 1 0 -4.3 0M229.20 146.11a2.15 2.15 0 1 0 4.3 0a2.15 2.15 0 1 0 -4.3 0M230.11 144.13a2.15 2.15 0 1 0 4.3 0a2.15 2.15 0 1 0 -4.3 0M231.03 149.86a2.15 2.15 0 1 0 4.3 0a2.15 2.15 0 1 0 -4.3 0M231.94 150.16a2.15 2.15 0 1 0 4.3 0a2.15 2.15 0 1 0 -4.3 0M232.85 142.60a2.15 2.15 0 1 0 4.3 0a2.15 2.15 0 1 0 -4.3 0M233.76 146.65a2.15 2.15 0 1 0 4.3 0a2.15 2.15 0 1 0 -4.3 0M234.67 143.98a2.15 2.15 0 1 0 4.3 0a2.15 2.15 0 1 0 -4.3 0M235.58 146.61a2.15 2.15 0 1 0 4.3 0a2.15 2.15 0 1 0 -4.3 0M236.49 153.43a2.15 2.15 0 1 0 4.3 0a2.15 2.15 0 1 0 -4.3 0M237.40 148.73a2.15 2.15 0 1 0 4.3 0a2.15 2.15 0 1 0 -4.3 0M238.31 149.62a2.15 2.15 0 1 0 4.3 0a2.15 2.15 0 1 0 -4.3 0M239.22 147.04a2.15 2.15 0 1 0 4.3 0a2.15 2.15 0 1 0 -4.3 0M240.13 146.95a2.15 2.15 0 1 0 4.3 0a2.15 2.15 0 1 0 -4.3 0M241.05 146.93a2.15 2.15 0 1 0 4.3 0a2.15 2.15 0 1 0 -4.3 0M241.96 149.28a2.15 2.15 0 1 0 4.3 0a2.15 2.15 0 1 0 -4.3 0M242.87 144.66a2.15 2.15 0 1 0 4.3 0a2.15 2.15 0 1 0 -4.3 0M243.78 149.76a2.15 2.15 0 1 0 4.3 0a2.15 2.15 0 1 0 -4.3 0M244.69 147.02a2.15 2.15 0 1 0 4.3 0a2.15 2.15 0 1 0 -4.3 0M245.60 145.55a2.15 2.15 0 1 0 4.3 0a2.15 2.15 0 1 0 -4.3 0M246.51 143.40a2.15 2.15 0 1 0 4.3 0a2.15 2.15 0 1 0 -4.3 0M247.42 140.99a2.15 2.15 0 1 0 4.3 0a2.15 2.15 0 1 0 -4.3 0M248.33 137.09a2.15 2.15 0 1 0 4.3 0a2.15 2.15 0 1 0 -4.3 0M249.25 137.95a2.15 2.15 0 1 0 4.3 0a2.15 2.15 0 1 0 -4.3 0M250.16 143.27a2.15 2.15 0 1 0 4.3 0a2.15 2.15 0 1 0 -4.3 0M251.07 143.02a2.15 2.15 0 1 0 4.3 0a2.15 2.15 0 1 0 -4.3 0M251.98 136.48a2.15 2.15 0 1 0 4.3 0a2.15 2.15 0 1 0 -4.3 0M252.89 143.21a2.15 2.15 0 1 0 4.3 0a2.15 2.15 0 1 0 -4.3 0M253.80 133.03a2.15 2.15 0 1 0 4.3 0a2.15 2.15 0 1 0 -4.3 0M254.71 142.60a2.15 2.15 0 1 0 4.3 0a2.15 2.15 0 1 0 -4.3 0M255.62 138.23a2.15 2.15 0 1 0 4.3 0a2.15 2.15 0 1 0 -4.3 0M256.53 135.09a2.15 2.15 0 1 0 4.3 0a2.15 2.15 0 1 0 -4.3 0M257.44 138.65a2.15 2.15 0 1 0 4.3 0a2.15 2.15 0 1 0 -4.3 0M258.36 135.57a2.15 2.15 0 1 0 4.3 0a2.15 2.15 0 1 0 -4.3 0M259.27 138.84a2.15 2.15 0 1 0 4.3 0a2.15 2.15 0 1 0 -4.3 0M260.18 143.79a2.15 2.15 0 1 0 4.3 0a2.15 2.15 0 1 0 -4.3 0M261.09 141.06a2.15 2.15 0 1 0 4.3 0a2.15 2.15 0 1 0 -4.3 0M262.00 142.22a2.15 2.15 0 1 0 4.3 0a2.15 2.15 0 1 0 -4.3 0M262.91 141.67a2.15 2.15 0 1 0 4.3 0a2.15 2.15 0 1 0 -4.3 0M263.82 141.04a2.15 2.15 0 1 0 4.3 0a2.15 2.15 0 1 0 -4.3 0M264.73 147.28a2.15 2.15 0 1 0 4.3 0a2.15 2.15 0 1 0 -4.3 0M265.64 147.58a2.15 2.15 0 1 0 4.3 0a2.15 2.15 0 1 0 -4.3 0M266.55 142.71a2.15 2.15 0 1 0 4.3 0a2.15 2.15 0 1 0 -4.3 0M267.47 150.38a2.15 2.15 0 1 0 4.3 0a2.15 2.15 0 1 0 -4.3 0M268.38 144.98a2.15 2.15 0 1 0 4.3 0a2.15 2.15 0 1 0 -4.3 0M269.29 142.50a2.15 2.15 0 1 0 4.3 0a2.15 2.15 0 1 0 -4.3 0M270.20 145.23a2.15 2.15 0 1 0 4.3 0a2.15 2.15 0 1 0 -4.3 0M271.11 143.72a2.15 2.15 0 1 0 4.3 0a2.15 2.15 0 1 0 -4.3 0M272.02 143.49a2.15 2.15 0 1 0 4.3 0a2.15 2.15 0 1 0 -4.3 0M272.93 146.95a2.15 2.15 0 1 0 4.3 0a2.15 2.15 0 1 0 -4.3 0M273.84 144.51a2.15 2.15 0 1 0 4.3 0a2.15 2.15 0 1 0 -4.3 0M274.75 142.96a2.15 2.15 0 1 0 4.3 0a2.15 2.15 0 1 0 -4.3 0M275.66 148.20a2.15 2.15 0 1 0 4.3 0a2.15 2.15 0 1 0 -4.3 0M276.58 137.49a2.15 2.15 0 1 0 4.3 0a2.15 2.15 0 1 0 -4.3 0M277.49 139.71a2.15 2.15 0 1 0 4.3 0a2.15 2.15 0 1 0 -4.3 0M278.40 132.30a2.15 2.15 0 1 0 4.3 0a2.15 2.15 0 1 0 -4.3 0M279.31 137.17a2.15 2.15 0 1 0 4.3 0a2.15 2.15 0 1 0 -4.3 0M280.22 139.70a2.15 2.15 0 1 0 4.3 0a2.15 2.15 0 1 0 -4.3 0M281.13 145.82a2.15 2.15 0 1 0 4.3 0a2.15 2.15 0 1 0 -4.3 0M282.04 145.95a2.15 2.15 0 1 0 4.3 0a2.15 2.15 0 1 0 -4.3 0M282.95 138.68a2.15 2.15 0 1 0 4.3 0a2.15 2.15 0 1 0 -4.3 0M283.86 145.33a2.15 2.15 0 1 0 4.3 0a2.15 2.15 0 1 0 -4.3 0M284.77 142.24a2.15 2.15 0 1 0 4.3 0a2.15 2.15 0 1 0 -4.3 0M285.69 137.85a2.15 2.15 0 1 0 4.3 0a2.15 2.15 0 1 0 -4.3 0M286.60 136.73a2.15 2.15 0 1 0 4.3 0a2.15 2.15 0 1 0 -4.3 0M287.51 131.63a2.15 2.15 0 1 0 4.3 0a2.15 2.15 0 1 0 -4.3 0M288.42 132.64a2.15 2.15 0 1 0 4.3 0a2.15 2.15 0 1 0 -4.3 0M289.33 140.92a2.15 2.15 0 1 0 4.3 0a2.15 2.15 0 1 0 -4.3 0M290.24 140.70a2.15 2.15 0 1 0 4.3 0a2.15 2.15 0 1 0 -4.3 0M291.15 134.39a2.15 2.15 0 1 0 4.3 0a2.15 2.15 0 1 0 -4.3 0M292.06 142.09a2.15 2.15 0 1 0 4.3 0a2.15 2.15 0 1 0 -4.3 0M292.97 136.48a2.15 2.15 0 1 0 4.3 0a2.15 2.15 0 1 0 -4.3 0M293.88 136.62a2.15 2.15 0 1 0 4.3 0a2.15 2.15 0 1 0 -4.3 0M294.80 132.45a2.15 2.15 0 1 0 4.3 0a2.15 2.15 0 1 0 -4.3 0M295.71 133.50a2.15 2.15 0 1 0 4.3 0a2.15 2.15 0 1 0 -4.3 0M296.62 135.25a2.15 2.15 0 1 0 4.3 0a2.15 2.15 0 1 0 -4.3 0M297.53 144.76a2.15 2.15 0 1 0 4.3 0a2.15 2.15 0 1 0 -4.3 0M298.44 139.80a2.15 2.15 0 1 0 4.3 0a2.15 2.15 0 1 0 -4.3 0M299.35 132.96a2.15 2.15 0 1 0 4.3 0a2.15 2.15 0 1 0 -4.3 0M300.26 134.41a2.15 2.15 0 1 0 4.3 0a2.15 2.15 0 1 0 -4.3 0M301.17 134.37a2.15 2.15 0 1 0 4.3 0a2.15 2.15 0 1 0 -4.3 0M302.08 133.02a2.15 2.15 0 1 0 4.3 0a2.15 2.15 0 1 0 -4.3 0M302.99 135.87a2.15 2.15 0 1 0 4.3 0a2.15 2.15 0 1 0 -4.3 0M303.91 129.49a2.15 2.15 0 1 0 4.3 0a2.15 2.15 0 1 0 -4.3 0M304.82 130.30a2.15 2.15 0 1 0 4.3 0a2.15 2.15 0 1 0 -4.3 0M305.73 131.97a2.15 2.15 0 1 0 4.3 0a2.15 2.15 0 1 0 -4.3 0M306.64 132.50a2.15 2.15 0 1 0 4.3 0a2.15 2.15 0 1 0 -4.3 0M307.55 130.65a2.15 2.15 0 1 0 4.3 0a2.15 2.15 0 1 0 -4.3 0M308.46 127.47a2.15 2.15 0 1 0 4.3 0a2.15 2.15 0 1 0 -4.3 0M309.37 118.05a2.15 2.15 0 1 0 4.3 0a2.15 2.15 0 1 0 -4.3 0M310.28 127.33a2.15 2.15 0 1 0 4.3 0a2.15 2.15 0 1 0 -4.3 0M311.19 121.05a2.15 2.15 0 1 0 4.3 0a2.15 2.15 0 1 0 -4.3 0M312.10 133.72a2.15 2.15 0 1 0 4.3 0a2.15 2.15 0 1 0 -4.3 0M313.02 121.52a2.15 2.15 0 1 0 4.3 0a2.15 2.15 0 1 0 -4.3 0M313.93 114.09a2.15 2.15 0 1 0 4.3 0a2.15 2.15 0 1 0 -4.3 0M314.84 119.38a2.15 2.15 0 1 0 4.3 0a2.15 2.15 0 1 0 -4.3 0M315.75 117.93a2.15 2.15 0 1 0 4.3 0a2.15 2.15 0 1 0 -4.3 0M316.66 120.10a2.15 2.15 0 1 0 4.3 0a2.15 2.15 0 1 0 -4.3 0M317.57 126.69a2.15 2.15 0 1 0 4.3 0a2.15 2.15 0 1 0 -4.3 0M318.48 122.07a2.15 2.15 0 1 0 4.3 0a2.15 2.15 0 1 0 -4.3 0M319.39 115.35a2.15 2.15 0 1 0 4.3 0a2.15 2.15 0 1 0 -4.3 0M320.30 119.52a2.15 2.15 0 1 0 4.3 0a2.15 2.15 0 1 0 -4.3 0M321.21 124.38a2.15 2.15 0 1 0 4.3 0a2.15 2.15 0 1 0 -4.3 0M322.12 122.73a2.15 2.15 0 1 0 4.3 0a2.15 2.15 0 1 0 -4.3 0M323.04 122.29a2.15 2.15 0 1 0 4.3 0a2.15 2.15 0 1 0 -4.3 0M323.95 118.67a2.15 2.15 0 1 0 4.3 0a2.15 2.15 0 1 0 -4.3 0M324.86 125.06a2.15 2.15 0 1 0 4.3 0a2.15 2.15 0 1 0 -4.3 0M325.77 119.75a2.15 2.15 0 1 0 4.3 0a2.15 2.15 0 1 0 -4.3 0M326.68 127.96a2.15 2.15 0 1 0 4.3 0a2.15 2.15 0 1 0 -4.3 0M327.59 127.97a2.15 2.15 0 1 0 4.3 0a2.15 2.15 0 1 0 -4.3 0M328.50 122.60a2.15 2.15 0 1 0 4.3 0a2.15 2.15 0 1 0 -4.3 0M329.41 128.02a2.15 2.15 0 1 0 4.3 0a2.15 2.15 0 1 0 -4.3 0M330.32 122.35a2.15 2.15 0 1 0 4.3 0a2.15 2.15 0 1 0 -4.3 0M331.24 119.67a2.15 2.15 0 1 0 4.3 0a2.15 2.15 0 1 0 -4.3 0M332.15 120.84a2.15 2.15 0 1 0 4.3 0a2.15 2.15 0 1 0 -4.3 0M333.06 124.84a2.15 2.15 0 1 0 4.3 0a2.15 2.15 0 1 0 -4.3 0M333.97 121.49a2.15 2.15 0 1 0 4.3 0a2.15 2.15 0 1 0 -4.3 0M334.88 130.90a2.15 2.15 0 1 0 4.3 0a2.15 2.15 0 1 0 -4.3 0M335.79 116.96a2.15 2.15 0 1 0 4.3 0a2.15 2.15 0 1 0 -4.3 0M336.70 129.28a2.15 2.15 0 1 0 4.3 0a2.15 2.15 0 1 0 -4.3 0M337.61 129.39a2.15 2.15 0 1 0 4.3 0a2.15 2.15 0 1 0 -4.3 0M338.52 123.05a2.15 2.15 0 1 0 4.3 0a2.15 2.15 0 1 0 -4.3 0M339.43 123.68a2.15 2.15 0 1 0 4.3 0a2.15 2.15 0 1 0 -4.3 0M340.35 122.04a2.15 2.15 0 1 0 4.3 0a2.15 2.15 0 1 0 -4.3 0M341.26 128.01a2.15 2.15 0 1 0 4.3 0a2.15 2.15 0 1 0 -4.3 0M342.17 121.02a2.15 2.15 0 1 0 4.3 0a2.15 2.15 0 1 0 -4.3 0M343.08 124.05a2.15 2.15 0 1 0 4.3 0a2.15 2.15 0 1 0 -4.3 0M343.99 125.36a2.15 2.15 0 1 0 4.3 0a2.15 2.15 0 1 0 -4.3 0" fill="#000"/>
<path d="M382.81 185.60V187.32M381.51 185.60h2.6M381.51 187.32h2.6M383.72 179.65V183.62M382.42 179.65h2.6M382.42 183.62h2.6M384.64 174.83V179.94M383.34 174.83h2.6M383.34 179.94h2.6M385.55 172.34V177.60M384.25 172.34h2.6M384.25 177.60h2.6M386.46 163.62V174.37M385.16 163.62h2.6M385.16 174.37h2.6M387.37 159.32V170.18M386.07 159.32h2.6M386.07 170.18h2.6M388.28 163.39V174.61M386.98 163.39h2.6M386.98 174.61h2.6M389.20 160.04V167.16M387.90 160.04h2.6M387.90 167.16h2.6M390.11 155.13V161.72M388.81 155.13h2.6M388.81 161.72h2.6M391.02 158.99V166.36M389.72 158.99h2.6M389.72 166.36h2.6M391.93 149.87V157.33M390.63 149.87h2.6M390.63 157.33h2.6M392.84 149.96V160.00M391.54 149.96h2.6M391.54 160.00h2.6M393.76 148.08V156.36M392.46 148.08h2.6M392.46 156.36h2.6M394.67 150.94V159.02M393.37 150.94h2.6M393.37 159.02h2.6M395.58 151.73V159.61M394.28 151.73h2.6M394.28 159.61h2.6M396.49 148.24V159.42M395.19 148.24h2.6M395.19 159.42h2.6M397.40 151.59V158.37M396.10 151.59h2.6M396.10 158.37h2.6M398.32 147.36V158.00M397.02 147.36h2.6M397.02 158.00h2.6M399.23 147.22V154.46M397.93 147.22h2.6M397.93 154.46h2.6M400.14 139.04V147.25M398.84 139.04h2.6M398.84 147.25h2.6M401.05 140.87V149.32M399.75 140.87h2.6M399.75 149.32h2.6M401.96 137.00V147.68M400.66 137.00h2.6M400.66 147.68h2.6M402.88 135.89V142.12M401.58 135.89h2.6M401.58 142.12h2.6M403.79 138.20V149.01M402.49 138.20h2.6M402.49 149.01h2.6M404.70 136.89V145.49M403.40 136.89h2.6M403.40 145.49h2.6M405.61 140.56V148.72M404.31 140.56h2.6M404.31 148.72h2.6M406.52 140.19V151.16M405.22 140.19h2.6M405.22 151.16h2.6M407.44 130.65V141.85M406.14 130.65h2.6M406.14 141.85h2.6M408.35 140.37V147.78M407.05 140.37h2.6M407.05 147.78h2.6M409.26 132.58V141.43M407.96 132.58h2.6M407.96 141.43h2.6M410.17 132.17V141.86M408.87 132.17h2.6M408.87 141.86h2.6M411.08 128.53V138.03M409.78 128.53h2.6M409.78 138.03h2.6M412.00 134.39V144.51M410.70 134.39h2.6M410.70 144.51h2.6M412.91 138.04V144.36M411.61 138.04h2.6M411.61 144.36h2.6M413.82 131.02V141.23M412.52 131.02h2.6M412.52 141.23h2.6M414.73 131.33V140.83M413.43 131.33h2.6M413.43 140.83h2.6M415.64 125.73V133.44M414.34 125.73h2.6M414.34 133.44h2.6M416.56 129.82V139.27M415.26 129.82h2.6M415.26 139.27h2.6M417.47 129.27V139.04M416.17 129.27h2.6M416.17 139.04h2.6M418.38 130.20V139.06M417.08 130.20h2.6M417.08 139.06h2.6M419.29 129.85V139.02M417.99 129.85h2.6M417.99 139.02h2.6M420.20 131.92V141.19M418.90 131.92h2.6M418.90 141.19h2.6M421.12 130.36V136.53M419.82 130.36h2.6M419.82 136.53h2.6M422.03 130.40V141.54M420.73 130.40h2.6M420.73 141.54h2.6M422.94 126.86V136.35M421.64 126.86h2.6M421.64 136.35h2.6M423.85 128.58V135.92M422.55 128.58h2.6M422.55 135.92h2.6M424.76 133.52V140.93M423.46 133.52h2.6M423.46 140.93h2.6M425.68 126.31V134.04M424.38 126.31h2.6M424.38 134.04h2.6M426.59 132.94V139.17M425.29 132.94h2.6M425.29 139.17h2.6M427.50 135.36V143.68M426.20 135.36h2.6M426.20 143.68h2.6M428.41 131.15V138.61M427.11 131.15h2.6M427.11 138.61h2.6M429.32 134.84V142.14M428.02 134.84h2.6M428.02 142.14h2.6M430.24 138.03V144.32M428.94 138.03h2.6M428.94 144.32h2.6M431.15 131.96V141.65M429.85 131.96h2.6M429.85 141.65h2.6M432.06 128.83V135.98M430.76 128.83h2.6M430.76 135.98h2.6M432.97 129.36V138.11M431.67 129.36h2.6M431.67 138.11h2.6M433.88 136.54V143.73M432.58 136.54h2.6M432.58 143.73h2.6M434.80 127.49V137.90M433.50 127.49h2.6M433.50 137.90h2.6M435.71 132.23V139.55M434.41 132.23h2.6M434.41 139.55h2.6M436.62 130.68V138.34M435.32 130.68h2.6M435.32 138.34h2.6M437.53 124.56V135.66M436.23 124.56h2.6M436.23 135.66h2.6M438.44 133.46V140.74M437.14 133.46h2.6M437.14 140.74h2.6M439.36 130.73V139.02M438.06 130.73h2.6M438.06 139.02h2.6M440.27 135.15V142.03M438.97 135.15h2.6M438.97 142.03h2.6M441.18 137.01V145.19M439.88 137.01h2.6M439.88 145.19h2.6M442.09 129.05V135.91M440.79 129.05h2.6M440.79 135.91h2.6M443.00 122.89V129.27M441.70 122.89h2.6M441.70 129.27h2.6M443.92 125.78V136.59M442.62 125.78h2.6M442.62 136.59h2.6M444.83 127.38V138.12M443.53 127.38h2.6M443.53 138.12h2.6M445.74 129.39V140.38M444.44 129.39h2.6M444.44 140.38h2.6M446.65 140.38V148.21M445.35 140.38h2.6M445.35 148.21h2.6M447.56 125.61V135.64M446.26 125.61h2.6M446.26 135.64h2.6M448.48 123.56V129.83M447.18 123.56h2.6M447.18 129.83h2.6M449.39 130.78V138.85M448.09 130.78h2.6M448.09 138.85h2.6M450.30 131.82V139.67M449.00 131.82h2.6M449.00 139.67h2.6M451.21 129.13V136.71M449.91 129.13h2.6M449.91 136.71h2.6M452.12 128.74V136.69M450.82 128.74h2.6M450.82 136.69h2.6M453.04 125.69V136.85M451.74 125.69h2.6M451.74 136.85h2.6M453.95 129.53V136.73M452.65 129.53h2.6M452.65 136.73h2.6M454.86 130.94V141.36M453.56 130.94h2.6M453.56 141.36h2.6M455.77 123.81V132.19M454.47 123.81h2.6M454.47 132.19h2.6M456.68 125.08V133.14M455.38 125.08h2.6M455.38 133.14h2.6M457.60 125.87V136.80M456.30 125.87h2.6M456.30 136.80h2.6M458.51 125.90V136.72M457.21 125.90h2.6M457.21 136.72h2.6M459.42 126.39V132.66M458.12 126.39h2.6M458.12 132.66h2.6M460.33 131.97V142.10M459.03 131.97h2.6M459.03 142.10h2.6M461.24 125.99V132.32M459.94 125.99h2.6M459.94 132.32h2.6M462.16 125.56V136.49M460.86 125.56h2.6M460.86 136.49h2.6M463.07 128.08V135.54M461.77 128.08h2.6M461.77 135.54h2.6M463.98 128.17V136.06M462.68 128.17h2.6M462.68 136.06h2.6M464.89 134.75V142.29M463.59 134.75h2.6M463.59 142.29h2.6M465.80 123.88V131.37M464.50 123.88h2.6M464.50 131.37h2.6M466.72 127.85V137.72M465.42 127.85h2.6M465.42 137.72h2.6M467.63 129.48V135.62M466.33 129.48h2.6M466.33 135.62h2.6M468.54 124.11V134.18M467.24 124.11h2.6M467.24 134.18h2.6M469.45 121.98V133.03M468.15 121.98h2.6M468.15 133.03h2.6M470.36 130.28V136.52M469.06 130.28h2.6M469.06 136.52h2.6M471.28 125.16V136.29M469.98 125.16h2.6M469.98 136.29h2.6M472.19 121.90V133.02M470.89 121.90h2.6M470.89 133.02h2.6M473.10 128.45V136.82M471.80 128.45h2.6M471.80 136.82h2.6M474.01 124.61V133.31M472.71 124.61h2.6M472.71 133.31h2.6M474.92 123.23V133.55M473.62 123.23h2.6M473.62 133.55h2.6M475.84 125.69V135.67M474.54 125.69h2.6M474.54 135.67h2.6M476.75 122.47V131.76M475.45 122.47h2.6M475.45 131.76h2.6M477.66 130.00V137.83M476.36 130.00h2.6M476.36 137.83h2.6M478.57 124.92V135.13M477.27 124.92h2.6M477.27 135.13h2.6M479.48 122.51V129.04M478.18 122.51h2.6M478.18 129.04h2.6M480.40 122.70V130.11M479.10 122.70h2.6M479.10 130.11h2.6M481.31 119.62V126.07M480.01 119.62h2.6M480.01 126.07h2.6M482.22 119.65V127.47M480.92 119.65h2.6M480.92 127.47h2.6M483.13 120.78V132.02M481.83 120.78h2.6M481.83 132.02h2.6M484.04 116.46V123.96M482.74 116.46h2.6M482.74 123.96h2.6M484.96 129.77V136.32M483.66 129.77h2.6M483.66 136.32h2.6M485.87 118.80V128.63M484.57 118.80h2.6M484.57 128.63h2.6M486.78 120.24V128.69M485.48 120.24h2.6M485.48 128.69h2.6M487.69 121.37V130.73M486.39 121.37h2.6M486.39 130.73h2.6M488.60 118.17V127.81M487.30 118.17h2.6M487.30 127.81h2.6M489.52 121.30V130.90M488.22 121.30h2.6M488.22 130.90h2.6M490.43 128.49V135.24M489.13 128.49h2.6M489.13 135.24h2.6M491.34 119.74V128.82M490.04 119.74h2.6M490.04 128.82h2.6M492.25 123.65V131.72M490.95 123.65h2.6M490.95 131.72h2.6M493.16 121.79V129.19M491.86 121.79h2.6M491.86 129.19h2.6M494.08 123.53V130.92M492.78 123.53h2.6M492.78 130.92h2.6M494.99 116.74V125.88M493.69 116.74h2.6M493.69 125.88h2.6M495.90 115.62V123.44M494.60 115.62h2.6M494.60 123.44h2.6M496.81 127.96V136.73M495.51 127.96h2.6M495.51 136.73h2.6M497.72 114.92V122.24M496.42 114.92h2.6M496.42 122.24h2.6M498.64 117.03V128.33M497.34 117.03h2.6M497.34 128.33h2.6M499.55 125.02V131.67M498.25 125.02h2.6M498.25 131.67h2.6M500.46 124.36V134.88M499.16 124.36h2.6M499.16 134.88h2.6M501.37 117.31V128.21M500.07 117.31h2.6M500.07 128.21h2.6M502.28 117.51V124.25M500.98 117.51h2.6M500.98 124.25h2.6M503.20 118.89V126.00M501.90 118.89h2.6M501.90 126.00h2.6M504.11 113.27V124.25M502.81 113.27h2.6M502.81 124.25h2.6M505.02 119.18V127.25M503.72 119.18h2.6M503.72 127.25h2.6M505.93 116.24V123.71M504.63 116.24h2.6M504.63 123.71h2.6M506.84 119.38V129.56M505.54 119.38h2.6M505.54 129.56h2.6M507.76 115.66V124.89M506.46 115.66h2.6M506.46 124.89h2.6M508.67 117.18V126.54M507.37 117.18h2.6M507.37 126.54h2.6M509.58 117.06V123.91M508.28 117.06h2.6M508.28 123.91h2.6M510.49 114.75V121.93M509.19 114.75h2.6M509.19 121.93h2.6M511.40 116.79V126.32M510.10 116.79h2.6M510.10 126.32h2.6M512.32 113.82V121.00M511.02 113.82h2.6M511.02 121.00h2.6M513.23 114.18V123.85M511.93 114.18h2.6M511.93 123.85h2.6M514.14 118.21V125.29M512.84 118.21h2.6M512.84 125.29h2.6M515.05 117.77V128.05M513.75 117.77h2.6M513.75 128.05h2.6M515.96 115.86V124.85M514.66 115.86h2.6M514.66 124.85h2.6M516.88 117.05V125.23M515.58 117.05h2.6M515.58 125.23h2.6" stroke="#707070" stroke-width="0.75" fill="none"/>
<path d="M380.76 186.46a2.05 2.05 0 1 0 4.1 0a2.05 2.05 0 1 0 -4.1 0M381.67 181.64a2.05 2.05 0 1 0 4.1 0a2.05 2.05 0 1 0 -4.1 0M382.59 177.38a2.05 2.05 0 1 0 4.1 0a2.05 2.05 0 1 0 -4.1 0M383.50 174.97a2.05 2.05 0 1 0 4.1 0a2.05 2.05 0 1 0 -4.1 0M384.41 169.00a2.05 2.05 0 1 0 4.1 0a2.05 2.05 0 1 0 -4.1 0M385.32 164.75a2.05 2.05 0 1 0 4.1 0a2.05 2.05 0 1 0 -4.1 0M386.23 169.00a2.05 2.05 0 1 0 4.1 0a2.05 2.05 0 1 0 -4.1 0M387.15 163.60a2.05 2.05 0 1 0 4.1 0a2.05 2.05 0 1 0 -4.1 0M388.06 158.43a2.05 2.05 0 1 0 4.1 0a2.05 2.05 0 1 0 -4.1 0M388.97 162.68a2.05 2.05 0 1 0 4.1 0a2.05 2.05 0 1 0 -4.1 0M389.88 153.60a2.05 2.05 0 1 0 4.1 0a2.05 2.05 0 1 0 -4.1 0M390.79 154.98a2.05 2.05 0 1 0 4.1 0a2.05 2.05 0 1 0 -4.1 0M391.71 152.22a2.05 2.05 0 1 0 4.1 0a2.05 2.05 0 1 0 -4.1 0M392.62 154.98a2.05 2.05 0 1 0 4.1 0a2.05 2.05 0 1 0 -4.1 0M393.53 155.67a2.05 2.05 0 1 0 4.1 0a2.05 2.05 0 1 0 -4.1 0M394.44 153.83a2.05 2.05 0 1 0 4.1 0a2.05 2.05 0 1 0 -4.1 0M395.35 154.98a2.05 2.05 0 1 0 4.1 0a2.05 2.05 0 1 0 -4.1 0M396.27 152.68a2.05 2.05 0 1 0 4.1 0a2.05 2.05 0 1 0 -4.1 0M397.18 150.84a2.05 2.05 0 1 0 4.1 0a2.05 2.05 0 1 0 -4.1 0M398.09 143.14a2.05 2.05 0 1 0 4.1 0a2.05 2.05 0 1 0 -4.1 0M399.00 145.10a2.05 2.05 0 1 0 4.1 0a2.05 2.05 0 1 0 -4.1 0M399.91 142.34a2.05 2.05 0 1 0 4.1 0a2.05 2.05 0 1 0 -4.1 0M400.83 139.01a2.05 2.05 0 1 0 4.1 0a2.05 2.05 0 1 0 -4.1 0M401.74 143.60a2.05 2.05 0 1 0 4.1 0a2.05 2.05 0 1 0 -4.1 0M402.65 141.19a2.05 2.05 0 1 0 4.1 0a2.05 2.05 0 1 0 -4.1 0M403.56 144.64a2.05 2.05 0 1 0 4.1 0a2.05 2.05 0 1 0 -4.1 0M404.47 145.67a2.05 2.05 0 1 0 4.1 0a2.05 2.05 0 1 0 -4.1 0M405.39 136.25a2.05 2.05 0 1 0 4.1 0a2.05 2.05 0 1 0 -4.1 0M406.30 144.07a2.05 2.05 0 1 0 4.1 0a2.05 2.05 0 1 0 -4.1 0M407.21 137.01a2.05 2.05 0 1 0 4.1 0a2.05 2.05 0 1 0 -4.1 0M408.12 137.02a2.05 2.05 0 1 0 4.1 0a2.05 2.05 0 1 0 -4.1 0M409.03 133.28a2.05 2.05 0 1 0 4.1 0a2.05 2.05 0 1 0 -4.1 0M409.95 139.45a2.05 2.05 0 1 0 4.1 0a2.05 2.05 0 1 0 -4.1 0M410.86 141.20a2.05 2.05 0 1 0 4.1 0a2.05 2.05 0 1 0 -4.1 0M411.77 136.13a2.05 2.05 0 1 0 4.1 0a2.05 2.05 0 1 0 -4.1 0M412.68 136.08a2.05 2.05 0 1 0 4.1 0a2.05 2.05 0 1 0 -4.1 0M413.59 129.58a2.05 2.05 0 1 0 4.1 0a2.05 2.05 0 1 0 -4.1 0M414.51 134.55a2.05 2.05 0 1 0 4.1 0a2.05 2.05 0 1 0 -4.1 0M415.42 134.15a2.05 2.05 0 1 0 4.1 0a2.05 2.05 0 1 0 -4.1 0M416.33 134.63a2.05 2.05 0 1 0 4.1 0a2.05 2.05 0 1 0 -4.1 0M417.24 134.43a2.05 2.05 0 1 0 4.1 0a2.05 2.05 0 1 0 -4.1 0M418.15 136.55a2.05 2.05 0 1 0 4.1 0a2.05 2.05 0 1 0 -4.1 0M419.07 133.44a2.05 2.05 0 1 0 4.1 0a2.05 2.05 0 1 0 -4.1 0M419.98 135.97a2.05 2.05 0 1 0 4.1 0a2.05 2.05 0 1 0 -4.1 0M420.89 131.60a2.05 2.05 0 1 0 4.1 0a2.05 2.05 0 1 0 -4.1 0M421.80 132.25a2.05 2.05 0 1 0 4.1 0a2.05 2.05 0 1 0 -4.1 0M422.71 137.22a2.05 2.05 0 1 0 4.1 0a2.05 2.05 0 1 0 -4.1 0M423.63 130.17a2.05 2.05 0 1 0 4.1 0a2.05 2.05 0 1 0 -4.1 0M424.54 136.06a2.05 2.05 0 1 0 4.1 0a2.05 2.05 0 1 0 -4.1 0M425.45 139.52a2.05 2.05 0 1 0 4.1 0a2.05 2.05 0 1 0 -4.1 0M426.36 134.88a2.05 2.05 0 1 0 4.1 0a2.05 2.05 0 1 0 -4.1 0M427.27 138.49a2.05 2.05 0 1 0 4.1 0a2.05 2.05 0 1 0 -4.1 0M428.19 141.18a2.05 2.05 0 1 0 4.1 0a2.05 2.05 0 1 0 -4.1 0M429.10 136.80a2.05 2.05 0 1 0 4.1 0a2.05 2.05 0 1 0 -4.1 0M430.01 132.40a2.05 2.05 0 1 0 4.1 0a2.05 2.05 0 1 0 -4.1 0M430.92 133.73a2.05 2.05 0 1 0 4.1 0a2.05 2.05 0 1 0 -4.1 0M431.83 140.14a2.05 2.05 0 1 0 4.1 0a2.05 2.05 0 1 0 -4.1 0M432.75 132.70a2.05 2.05 0 1 0 4.1 0a2.05 2.05 0 1 0 -4.1 0M433.66 135.89a2.05 2.05 0 1 0 4.1 0a2.05 2.05 0 1 0 -4.1 0M434.57 134.51a2.05 2.05 0 1 0 4.1 0a2.05 2.05 0 1 0 -4.1 0M435.48 130.11a2.05 2.05 0 1 0 4.1 0a2.05 2.05 0 1 0 -4.1 0M436.39 137.10a2.05 2.05 0 1 0 4.1 0a2.05 2.05 0 1 0 -4.1 0M437.31 134.88a2.05 2.05 0 1 0 4.1 0a2.05 2.05 0 1 0 -4.1 0M438.22 138.59a2.05 2.05 0 1 0 4.1 0a2.05 2.05 0 1 0 -4.1 0M439.13 141.10a2.05 2.05 0 1 0 4.1 0a2.05 2.05 0 1 0 -4.1 0M440.04 132.48a2.05 2.05 0 1 0 4.1 0a2.05 2.05 0 1 0 -4.1 0M440.95 126.08a2.05 2.05 0 1 0 4.1 0a2.05 2.05 0 1 0 -4.1 0M441.87 131.18a2.05 2.05 0 1 0 4.1 0a2.05 2.05 0 1 0 -4.1 0M442.78 132.75a2.05 2.05 0 1 0 4.1 0a2.05 2.05 0 1 0 -4.1 0M443.69 134.89a2.05 2.05 0 1 0 4.1 0a2.05 2.05 0 1 0 -4.1 0M444.60 144.29a2.05 2.05 0 1 0 4.1 0a2.05 2.05 0 1 0 -4.1 0M445.51 130.63a2.05 2.05 0 1 0 4.1 0a2.05 2.05 0 1 0 -4.1 0M446.43 126.69a2.05 2.05 0 1 0 4.1 0a2.05 2.05 0 1 0 -4.1 0M447.34 134.81a2.05 2.05 0 1 0 4.1 0a2.05 2.05 0 1 0 -4.1 0M448.25 135.75a2.05 2.05 0 1 0 4.1 0a2.05 2.05 0 1 0 -4.1 0M449.16 132.92a2.05 2.05 0 1 0 4.1 0a2.05 2.05 0 1 0 -4.1 0M450.07 132.71a2.05 2.05 0 1 0 4.1 0a2.05 2.05 0 1 0 -4.1 0M450.99 131.27a2.05 2.05 0 1 0 4.1 0a2.05 2.05 0 1 0 -4.1 0M451.90 133.13a2.05 2.05 0 1 0 4.1 0a2.05 2.05 0 1 0 -4.1 0M452.81 136.15a2.05 2.05 0 1 0 4.1 0a2.05 2.05 0 1 0 -4.1 0M453.72 128.00a2.05 2.05 0 1 0 4.1 0a2.05 2.05 0 1 0 -4.1 0M454.63 129.11a2.05 2.05 0 1 0 4.1 0a2.05 2.05 0 1 0 -4.1 0M455.55 131.33a2.05 2.05 0 1 0 4.1 0a2.05 2.05 0 1 0 -4.1 0M456.46 131.31a2.05 2.05 0 1 0 4.1 0a2.05 2.05 0 1 0 -4.1 0M457.37 129.52a2.05 2.05 0 1 0 4.1 0a2.05 2.05 0 1 0 -4.1 0M458.28 137.03a2.05 2.05 0 1 0 4.1 0a2.05 2.05 0 1 0 -4.1 0M459.19 129.16a2.05 2.05 0 1 0 4.1 0a2.05 2.05 0 1 0 -4.1 0M460.11 131.03a2.05 2.05 0 1 0 4.1 0a2.05 2.05 0 1 0 -4.1 0M461.02 131.81a2.05 2.05 0 1 0 4.1 0a2.05 2.05 0 1 0 -4.1 0M461.93 132.11a2.05 2.05 0 1 0 4.1 0a2.05 2.05 0 1 0 -4.1 0M462.84 138.52a2.05 2.05 0 1 0 4.1 0a2.05 2.05 0 1 0 -4.1 0M463.75 127.62a2.05 2.05 0 1 0 4.1 0a2.05 2.05 0 1 0 -4.1 0M464.67 132.78a2.05 2.05 0 1 0 4.1 0a2.05 2.05 0 1 0 -4.1 0M465.58 132.55a2.05 2.05 0 1 0 4.1 0a2.05 2.05 0 1 0 -4.1 0M466.49 129.15a2.05 2.05 0 1 0 4.1 0a2.05 2.05 0 1 0 -4.1 0M467.40 127.50a2.05 2.05 0 1 0 4.1 0a2.05 2.05 0 1 0 -4.1 0M468.31 133.40a2.05 2.05 0 1 0 4.1 0a2.05 2.05 0 1 0 -4.1 0M469.23 130.72a2.05 2.05 0 1 0 4.1 0a2.05 2.05 0 1 0 -4.1 0M470.14 127.46a2.05 2.05 0 1 0 4.1 0a2.05 2.05 0 1 0 -4.1 0M471.05 132.63a2.05 2.05 0 1 0 4.1 0a2.05 2.05 0 1 0 -4.1 0M471.96 128.96a2.05 2.05 0 1 0 4.1 0a2.05 2.05 0 1 0 -4.1 0M472.87 128.39a2.05 2.05 0 1 0 4.1 0a2.05 2.05 0 1 0 -4.1 0M473.79 130.68a2.05 2.05 0 1 0 4.1 0a2.05 2.05 0 1 0 -4.1 0M474.70 127.11a2.05 2.05 0 1 0 4.1 0a2.05 2.05 0 1 0 -4.1 0M475.61 133.92a2.05 2.05 0 1 0 4.1 0a2.05 2.05 0 1 0 -4.1 0M476.52 130.03a2.05 2.05 0 1 0 4.1 0a2.05 2.05 0 1 0 -4.1 0M477.43 125.77a2.05 2.05 0 1 0 4.1 0a2.05 2.05 0 1 0 -4.1 0M478.35 126.41a2.05 2.05 0 1 0 4.1 0a2.05 2.05 0 1 0 -4.1 0M479.26 122.84a2.05 2.05 0 1 0 4.1 0a2.05 2.05 0 1 0 -4.1 0M480.17 123.56a2.05 2.05 0 1 0 4.1 0a2.05 2.05 0 1 0 -4.1 0M481.08 126.40a2.05 2.05 0 1 0 4.1 0a2.05 2.05 0 1 0 -4.1 0M481.99 120.21a2.05 2.05 0 1 0 4.1 0a2.05 2.05 0 1 0 -4.1 0M482.91 133.04a2.05 2.05 0 1 0 4.1 0a2.05 2.05 0 1 0 -4.1 0M483.82 123.72a2.05 2.05 0 1 0 4.1 0a2.05 2.05 0 1 0 -4.1 0M484.73 124.47a2.05 2.05 0 1 0 4.1 0a2.05 2.05 0 1 0 -4.1 0M485.64 126.05a2.05 2.05 0 1 0 4.1 0a2.05 2.05 0 1 0 -4.1 0M486.55 122.99a2.05 2.05 0 1 0 4.1 0a2.05 2.05 0 1 0 -4.1 0M487.47 126.10a2.05 2.05 0 1 0 4.1 0a2.05 2.05 0 1 0 -4.1 0M488.38 131.86a2.05 2.05 0 1 0 4.1 0a2.05 2.05 0 1 0 -4.1 0M489.29 124.28a2.05 2.05 0 1 0 4.1 0a2.05 2.05 0 1 0 -4.1 0M490.20 127.68a2.05 2.05 0 1 0 4.1 0a2.05 2.05 0 1 0 -4.1 0M491.11 125.49a2.05 2.05 0 1 0 4.1 0a2.05 2.05 0 1 0 -4.1 0M492.03 127.22a2.05 2.05 0 1 0 4.1 0a2.05 2.05 0 1 0 -4.1 0M492.94 121.31a2.05 2.05 0 1 0 4.1 0a2.05 2.05 0 1 0 -4.1 0M493.85 119.53a2.05 2.05 0 1 0 4.1 0a2.05 2.05 0 1 0 -4.1 0M494.76 132.35a2.05 2.05 0 1 0 4.1 0a2.05 2.05 0 1 0 -4.1 0M495.67 118.58a2.05 2.05 0 1 0 4.1 0a2.05 2.05 0 1 0 -4.1 0M496.59 122.68a2.05 2.05 0 1 0 4.1 0a2.05 2.05 0 1 0 -4.1 0M497.50 128.34a2.05 2.05 0 1 0 4.1 0a2.05 2.05 0 1 0 -4.1 0M498.41 129.62a2.05 2.05 0 1 0 4.1 0a2.05 2.05 0 1 0 -4.1 0M499.32 122.76a2.05 2.05 0 1 0 4.1 0a2.05 2.05 0 1 0 -4.1 0M500.23 120.88a2.05 2.05 0 1 0 4.1 0a2.05 2.05 0 1 0 -4.1 0M501.15 122.45a2.05 2.05 0 1 0 4.1 0a2.05 2.05 0 1 0 -4.1 0M502.06 118.76a2.05 2.05 0 1 0 4.1 0a2.05 2.05 0 1 0 -4.1 0M502.97 123.21a2.05 2.05 0 1 0 4.1 0a2.05 2.05 0 1 0 -4.1 0M503.88 119.97a2.05 2.05 0 1 0 4.1 0a2.05 2.05 0 1 0 -4.1 0M504.79 124.47a2.05 2.05 0 1 0 4.1 0a2.05 2.05 0 1 0 -4.1 0M505.71 120.28a2.05 2.05 0 1 0 4.1 0a2.05 2.05 0 1 0 -4.1 0M506.62 121.86a2.05 2.05 0 1 0 4.1 0a2.05 2.05 0 1 0 -4.1 0M507.53 120.48a2.05 2.05 0 1 0 4.1 0a2.05 2.05 0 1 0 -4.1 0M508.44 118.34a2.05 2.05 0 1 0 4.1 0a2.05 2.05 0 1 0 -4.1 0M509.35 121.56a2.05 2.05 0 1 0 4.1 0a2.05 2.05 0 1 0 -4.1 0M510.27 117.41a2.05 2.05 0 1 0 4.1 0a2.05 2.05 0 1 0 -4.1 0M511.18 119.02a2.05 2.05 0 1 0 4.1 0a2.05 2.05 0 1 0 -4.1 0M512.09 121.75a2.05 2.05 0 1 0 4.1 0a2.05 2.05 0 1 0 -4.1 0M513.00 122.91a2.05 2.05 0 1 0 4.1 0a2.05 2.05 0 1 0 -4.1 0M513.91 120.36a2.05 2.05 0 1 0 4.1 0a2.05 2.05 0 1 0 -4.1 0M514.83 121.14a2.05 2.05 0 1 0 4.1 0a2.05 2.05 0 1 0 -4.1 0" fill="#000"/>
<path d="M555.30 187.69V189.44M554.00 187.69h2.6M554.00 189.44h2.6M556.21 181.74V184.97M554.91 181.74h2.6M554.91 184.97h2.6M557.11 173.70V181.19M555.81 173.70h2.6M555.81 181.19h2.6M558.02 168.52V176.43M556.72 168.52h2.6M556.72 176.43h2.6M558.92 164.05V176.64M557.62 164.05h2.6M557.62 176.64h2.6M559.82 161.34V171.07M558.52 161.34h2.6M558.52 171.07h2.6M560.73 160.44V170.55M559.43 160.44h2.6M559.43 170.55h2.6M561.63 157.89V167.66M560.33 157.89h2.6M560.33 167.66h2.6M562.54 157.23V165.95M561.24 157.23h2.6M561.24 165.95h2.6M563.44 156.19V163.68M562.14 156.19h2.6M562.14 163.68h2.6M564.34 143.51V156.72M563.04 143.51h2.6M563.04 156.72h2.6M565.25 147.10V157.15M563.95 147.10h2.6M563.95 157.15h2.6M566.15 143.21V156.31M564.85 143.21h2.6M564.85 156.31h2.6M567.06 142.79V150.34M565.76 142.79h2.6M565.76 150.34h2.6M567.96 147.82V158.80M566.66 147.82h2.6M566.66 158.80h2.6M568.86 150.96V158.98M567.56 150.96h2.6M567.56 158.98h2.6M569.77 148.78V160.21M568.47 148.78h2.6M568.47 160.21h2.6M570.67 148.76V157.15M569.37 148.76h2.6M569.37 157.15h2.6M571.58 146.31V155.58M570.28 146.31h2.6M570.28 155.58h2.6M572.48 143.32V151.47M571.18 143.32h2.6M571.18 151.47h2.6M573.38 138.55V149.14M572.08 138.55h2.6M572.08 149.14h2.6M574.29 139.05V147.76M572.99 139.05h2.6M572.99 147.76h2.6M575.19 152.78V161.04M573.89 152.78h2.6M573.89 161.04h2.6M576.10 129.60V140.14M574.80 129.60h2.6M574.80 140.14h2.6M577.00 145.19V152.99M575.70 145.19h2.6M575.70 152.99h2.6M577.90 133.93V147.16M576.60 133.93h2.6M576.60 147.16h2.6M578.81 139.79V151.21M577.51 139.79h2.6M577.51 151.21h2.6M579.71 135.53V148.00M578.41 135.53h2.6M578.41 148.00h2.6M580.62 140.00V148.87M579.32 140.00h2.6M579.32 148.87h2.6M581.52 141.91V154.66M580.22 141.91h2.6M580.22 154.66h2.6M582.42 132.57V141.19M581.12 132.57h2.6M581.12 141.19h2.6M583.33 135.36V146.12M582.03 135.36h2.6M582.03 146.12h2.6M584.23 132.49V142.39M582.93 132.49h2.6M582.93 142.39h2.6M585.14 133.38V145.46M583.84 133.38h2.6M583.84 145.46h2.6M586.04 132.94V146.13M584.74 132.94h2.6M584.74 146.13h2.6M586.94 130.40V142.69M585.64 130.40h2.6M585.64 142.69h2.6M587.85 136.65V144.34M586.55 136.65h2.6M586.55 144.34h2.6M588.75 135.19V146.47M587.45 135.19h2.6M587.45 146.47h2.6M589.66 138.34V149.31M588.36 138.34h2.6M588.36 149.31h2.6M590.56 139.55V149.68M589.26 139.55h2.6M589.26 149.68h2.6M591.46 139.27V150.44M590.16 139.27h2.6M590.16 150.44h2.6M592.37 142.85V153.16M591.07 142.85h2.6M591.07 153.16h2.6M593.27 134.67V144.92M591.97 134.67h2.6M591.97 144.92h2.6M594.18 131.64V142.22M592.88 131.64h2.6M592.88 142.22h2.6M595.08 137.62V146.57M593.78 137.62h2.6M593.78 146.57h2.6M595.98 137.32V147.70M594.68 137.32h2.6M594.68 147.70h2.6M596.89 146.40V155.00M595.59 146.40h2.6M595.59 155.00h2.6M597.79 141.35V149.63M596.49 141.35h2.6M596.49 149.63h2.6M598.70 138.23V148.43M597.40 138.23h2.6M597.40 148.43h2.6M599.60 134.63V145.34M598.30 134.63h2.6M598.30 145.34h2.6M600.50 137.13V144.84M599.20 137.13h2.6M599.20 144.84h2.6M601.41 138.22V150.36M600.11 138.22h2.6M600.11 150.36h2.6M602.31 137.90V150.33M601.01 137.90h2.6M601.01 150.33h2.6M603.22 138.51V149.18M601.92 138.51h2.6M601.92 149.18h2.6M604.12 137.24V147.11M602.82 137.24h2.6M602.82 147.11h2.6M605.02 133.06V145.99M603.72 133.06h2.6M603.72 145.99h2.6M605.93 135.15V148.97M604.63 135.15h2.6M604.63 148.97h2.6M606.83 137.54V146.23M605.53 137.54h2.6M605.53 146.23h2.6M607.74 141.56V155.29M606.44 141.56h2.6M606.44 155.29h2.6M608.64 144.30V157.60M607.34 144.30h2.6M607.34 157.60h2.6M609.54 135.26V143.77M608.24 135.26h2.6M608.24 143.77h2.6M610.45 133.54V141.41M609.15 133.54h2.6M609.15 141.41h2.6M611.35 144.29V153.99M610.05 144.29h2.6M610.05 153.99h2.6M612.26 132.66V145.84M610.96 132.66h2.6M610.96 145.84h2.6M613.16 137.01V146.22M611.86 137.01h2.6M611.86 146.22h2.6M614.06 132.60V143.26M612.76 132.60h2.6M612.76 143.26h2.6M614.97 134.15V147.48M613.67 134.15h2.6M613.67 147.48h2.6M615.87 132.20V142.89M614.57 132.20h2.6M614.57 142.89h2.6M616.78 130.21V139.70M615.48 130.21h2.6M615.48 139.70h2.6M617.68 131.06V139.54M616.38 131.06h2.6M616.38 139.54h2.6M618.58 130.06V143.50M617.28 130.06h2.6M617.28 143.50h2.6M619.49 136.47V145.00M618.19 136.47h2.6M618.19 145.00h2.6M620.39 138.28V150.75M619.09 138.28h2.6M619.09 150.75h2.6M621.30 126.11V137.63M620.00 126.11h2.6M620.00 137.63h2.6M622.20 126.93V136.68M620.90 126.93h2.6M620.90 136.68h2.6M623.10 125.37V136.53M621.80 125.37h2.6M621.80 136.53h2.6M624.01 131.54V144.63M622.71 131.54h2.6M622.71 144.63h2.6M624.91 117.32V128.80M623.61 117.32h2.6M623.61 128.80h2.6M625.82 119.96V129.93M624.52 119.96h2.6M624.52 129.93h2.6M626.72 124.73V138.51M625.42 124.73h2.6M625.42 138.51h2.6M627.62 130.05V141.19M626.32 130.05h2.6M626.32 141.19h2.6M628.53 131.74V142.02M627.23 131.74h2.6M627.23 142.02h2.6M629.43 122.21V130.79M628.13 122.21h2.6M628.13 130.79h2.6M630.34 125.61V138.30M629.04 125.61h2.6M629.04 138.30h2.6M631.24 128.52V137.60M629.94 128.52h2.6M629.94 137.60h2.6M632.14 133.80V145.00M630.84 133.80h2.6M630.84 145.00h2.6M633.05 134.92V146.62M631.75 134.92h2.6M631.75 146.62h2.6M633.95 127.45V135.12M632.65 127.45h2.6M632.65 135.12h2.6M634.86 126.57V134.98M633.56 126.57h2.6M633.56 134.98h2.6M635.76 128.85V139.58M634.46 128.85h2.6M634.46 139.58h2.6M636.66 127.03V140.20M635.36 127.03h2.6M635.36 140.20h2.6M637.57 122.48V134.11M636.27 122.48h2.6M636.27 134.11h2.6M638.47 124.07V131.67M637.17 124.07h2.6M637.17 131.67h2.6M639.38 121.83V129.97M638.08 121.83h2.6M638.08 129.97h2.6M640.28 124.72V134.45M638.98 124.72h2.6M638.98 134.45h2.6M641.18 122.90V134.11M639.88 122.90h2.6M639.88 134.11h2.6M642.09 119.23V127.99M640.79 119.23h2.6M640.79 127.99h2.6M642.99 128.22V136.54M641.69 128.22h2.6M641.69 136.54h2.6M643.90 125.38V138.82M642.60 125.38h2.6M642.60 138.82h2.6M644.80 124.34V132.40M643.50 124.34h2.6M643.50 132.40h2.6M645.70 119.84V131.37M644.40 119.84h2.6M644.40 131.37h2.6M646.61 117.44V127.46M645.31 117.44h2.6M645.31 127.46h2.6M647.51 127.94V137.09M646.21 127.94h2.6M646.21 137.09h2.6M648.42 115.06V126.10M647.12 115.06h2.6M647.12 126.10h2.6M649.32 120.96V130.65M648.02 120.96h2.6M648.02 130.65h2.6M650.22 121.90V135.34M648.92 121.90h2.6M648.92 135.34h2.6M651.13 122.95V135.09M649.83 122.95h2.6M649.83 135.09h2.6M652.03 120.96V128.70M650.73 120.96h2.6M650.73 128.70h2.6M652.94 107.92V118.77M651.64 107.92h2.6M651.64 118.77h2.6M653.84 118.88V126.70M652.54 118.88h2.6M652.54 126.70h2.6M654.74 109.86V122.29M653.44 109.86h2.6M653.44 122.29h2.6M655.65 103.35V116.81M654.35 103.35h2.6M654.35 116.81h2.6M656.55 111.00V119.36M655.25 111.00h2.6M655.25 119.36h2.6M657.46 108.59V119.28M656.16 108.59h2.6M656.16 119.28h2.6M658.36 104.58V116.13M657.06 104.58h2.6M657.06 116.13h2.6M659.26 110.31V119.74M657.96 110.31h2.6M657.96 119.74h2.6M660.17 113.94V123.31M658.87 113.94h2.6M658.87 123.31h2.6M661.07 101.59V114.04M659.77 101.59h2.6M659.77 114.04h2.6M661.98 107.80V119.82M660.68 107.80h2.6M660.68 119.82h2.6M662.88 102.32V114.53M661.58 102.32h2.6M661.58 114.53h2.6M663.78 110.74V121.17M662.48 110.74h2.6M662.48 121.17h2.6M664.69 111.72V120.62M663.39 111.72h2.6M663.39 120.62h2.6M665.59 116.18V124.30M664.29 116.18h2.6M664.29 124.30h2.6M666.50 110.29V119.88M665.20 110.29h2.6M665.20 119.88h2.6M667.40 107.55V119.79M666.10 107.55h2.6M666.10 119.79h2.6M668.30 111.29V123.29M667.00 111.29h2.6M667.00 123.29h2.6M669.21 117.32V126.47M667.91 117.32h2.6M667.91 126.47h2.6M670.11 111.85V124.34M668.81 111.85h2.6M668.81 124.34h2.6M671.02 109.56V120.35M669.72 109.56h2.6M669.72 120.35h2.6M671.92 106.86V120.48M670.62 106.86h2.6M670.62 120.48h2.6M672.82 102.83V111.67M671.52 102.83h2.6M671.52 111.67h2.6M673.73 108.46V117.58M672.43 108.46h2.6M672.43 117.58h2.6M674.63 109.83V118.79M673.33 109.83h2.6M673.33 118.79h2.6M675.54 108.32V120.54M674.24 108.32h2.6M674.24 120.54h2.6M676.44 119.74V129.28M675.14 119.74h2.6M675.14 129.28h2.6M677.34 107.24V116.22M676.04 107.24h2.6M676.04 116.22h2.6M678.25 110.72V123.97M676.95 110.72h2.6M676.95 123.97h2.6M679.15 113.59V125.29M677.85 113.59h2.6M677.85 125.29h2.6M680.06 113.15V126.86M678.76 113.15h2.6M678.76 126.86h2.6M680.96 117.50V129.41M679.66 117.50h2.6M679.66 129.41h2.6M681.86 108.03V120.96M680.56 108.03h2.6M680.56 120.96h2.6M682.77 117.40V128.50M681.47 117.40h2.6M681.47 128.50h2.6M683.67 109.89V119.31M682.37 109.89h2.6M682.37 119.31h2.6M684.58 112.44V120.39M683.28 112.44h2.6M683.28 120.39h2.6M685.48 88.71V101.98M684.18 88.71h2.6M684.18 101.98h2.6M686.38 97.78V105.92M685.08 97.78h2.6M685.08 105.92h2.6" stroke="#707070" stroke-width="0.75" fill="none"/>
<path d="M553.30 188.56a2.0 2.0 0 1 0 4.0 0a2.0 2.0 0 1 0 -4.0 0M554.21 183.36a2.0 2.0 0 1 0 4.0 0a2.0 2.0 0 1 0 -4.0 0M555.11 177.44a2.0 2.0 0 1 0 4.0 0a2.0 2.0 0 1 0 -4.0 0M556.02 172.47a2.0 2.0 0 1 0 4.0 0a2.0 2.0 0 1 0 -4.0 0M556.92 170.35a2.0 2.0 0 1 0 4.0 0a2.0 2.0 0 1 0 -4.0 0M557.82 166.20a2.0 2.0 0 1 0 4.0 0a2.0 2.0 0 1 0 -4.0 0M558.73 165.49a2.0 2.0 0 1 0 4.0 0a2.0 2.0 0 1 0 -4.0 0M559.63 162.77a2.0 2.0 0 1 0 4.0 0a2.0 2.0 0 1 0 -4.0 0M560.54 161.59a2.0 2.0 0 1 0 4.0 0a2.0 2.0 0 1 0 -4.0 0M561.44 159.93a2.0 2.0 0 1 0 4.0 0a2.0 2.0 0 1 0 -4.0 0M562.34 150.12a2.0 2.0 0 1 0 4.0 0a2.0 2.0 0 1 0 -4.0 0M563.25 152.13a2.0 2.0 0 1 0 4.0 0a2.0 2.0 0 1 0 -4.0 0M564.15 149.76a2.0 2.0 0 1 0 4.0 0a2.0 2.0 0 1 0 -4.0 0M565.06 146.57a2.0 2.0 0 1 0 4.0 0a2.0 2.0 0 1 0 -4.0 0M565.96 153.31a2.0 2.0 0 1 0 4.0 0a2.0 2.0 0 1 0 -4.0 0M566.86 154.97a2.0 2.0 0 1 0 4.0 0a2.0 2.0 0 1 0 -4.0 0M567.77 154.49a2.0 2.0 0 1 0 4.0 0a2.0 2.0 0 1 0 -4.0 0M568.67 152.96a2.0 2.0 0 1 0 4.0 0a2.0 2.0 0 1 0 -4.0 0M569.58 150.94a2.0 2.0 0 1 0 4.0 0a2.0 2.0 0 1 0 -4.0 0M570.48 147.40a2.0 2.0 0 1 0 4.0 0a2.0 2.0 0 1 0 -4.0 0M571.38 143.85a2.0 2.0 0 1 0 4.0 0a2.0 2.0 0 1 0 -4.0 0M572.29 143.40a2.0 2.0 0 1 0 4.0 0a2.0 2.0 0 1 0 -4.0 0M573.19 156.91a2.0 2.0 0 1 0 4.0 0a2.0 2.0 0 1 0 -4.0 0M574.10 134.87a2.0 2.0 0 1 0 4.0 0a2.0 2.0 0 1 0 -4.0 0M575.00 149.09a2.0 2.0 0 1 0 4.0 0a2.0 2.0 0 1 0 -4.0 0M575.90 140.55a2.0 2.0 0 1 0 4.0 0a2.0 2.0 0 1 0 -4.0 0M576.81 145.50a2.0 2.0 0 1 0 4.0 0a2.0 2.0 0 1 0 -4.0 0M577.71 141.76a2.0 2.0 0 1 0 4.0 0a2.0 2.0 0 1 0 -4.0 0M578.62 144.44a2.0 2.0 0 1 0 4.0 0a2.0 2.0 0 1 0 -4.0 0M579.52 148.28a2.0 2.0 0 1 0 4.0 0a2.0 2.0 0 1 0 -4.0 0M580.42 136.88a2.0 2.0 0 1 0 4.0 0a2.0 2.0 0 1 0 -4.0 0M581.33 140.74a2.0 2.0 0 1 0 4.0 0a2.0 2.0 0 1 0 -4.0 0M582.23 137.44a2.0 2.0 0 1 0 4.0 0a2.0 2.0 0 1 0 -4.0 0M583.14 139.42a2.0 2.0 0 1 0 4.0 0a2.0 2.0 0 1 0 -4.0 0M584.04 139.53a2.0 2.0 0 1 0 4.0 0a2.0 2.0 0 1 0 -4.0 0M584.94 136.54a2.0 2.0 0 1 0 4.0 0a2.0 2.0 0 1 0 -4.0 0M585.85 140.50a2.0 2.0 0 1 0 4.0 0a2.0 2.0 0 1 0 -4.0 0M586.75 140.83a2.0 2.0 0 1 0 4.0 0a2.0 2.0 0 1 0 -4.0 0M587.66 143.82a2.0 2.0 0 1 0 4.0 0a2.0 2.0 0 1 0 -4.0 0M588.56 144.61a2.0 2.0 0 1 0 4.0 0a2.0 2.0 0 1 0 -4.0 0M589.46 144.86a2.0 2.0 0 1 0 4.0 0a2.0 2.0 0 1 0 -4.0 0M590.37 148.00a2.0 2.0 0 1 0 4.0 0a2.0 2.0 0 1 0 -4.0 0M591.27 139.79a2.0 2.0 0 1 0 4.0 0a2.0 2.0 0 1 0 -4.0 0M592.18 136.93a2.0 2.0 0 1 0 4.0 0a2.0 2.0 0 1 0 -4.0 0M593.08 142.09a2.0 2.0 0 1 0 4.0 0a2.0 2.0 0 1 0 -4.0 0M593.98 142.51a2.0 2.0 0 1 0 4.0 0a2.0 2.0 0 1 0 -4.0 0M594.89 150.70a2.0 2.0 0 1 0 4.0 0a2.0 2.0 0 1 0 -4.0 0M595.79 145.49a2.0 2.0 0 1 0 4.0 0a2.0 2.0 0 1 0 -4.0 0M596.70 143.33a2.0 2.0 0 1 0 4.0 0a2.0 2.0 0 1 0 -4.0 0M597.60 139.99a2.0 2.0 0 1 0 4.0 0a2.0 2.0 0 1 0 -4.0 0M598.50 140.98a2.0 2.0 0 1 0 4.0 0a2.0 2.0 0 1 0 -4.0 0M599.41 144.29a2.0 2.0 0 1 0 4.0 0a2.0 2.0 0 1 0 -4.0 0M600.31 144.12a2.0 2.0 0 1 0 4.0 0a2.0 2.0 0 1 0 -4.0 0M601.22 143.85a2.0 2.0 0 1 0 4.0 0a2.0 2.0 0 1 0 -4.0 0M602.12 142.17a2.0 2.0 0 1 0 4.0 0a2.0 2.0 0 1 0 -4.0 0M603.02 139.52a2.0 2.0 0 1 0 4.0 0a2.0 2.0 0 1 0 -4.0 0M603.93 142.06a2.0 2.0 0 1 0 4.0 0a2.0 2.0 0 1 0 -4.0 0M604.83 141.89a2.0 2.0 0 1 0 4.0 0a2.0 2.0 0 1 0 -4.0 0M605.74 148.43a2.0 2.0 0 1 0 4.0 0a2.0 2.0 0 1 0 -4.0 0M606.64 150.95a2.0 2.0 0 1 0 4.0 0a2.0 2.0 0 1 0 -4.0 0M607.54 139.52a2.0 2.0 0 1 0 4.0 0a2.0 2.0 0 1 0 -4.0 0M608.45 137.47a2.0 2.0 0 1 0 4.0 0a2.0 2.0 0 1 0 -4.0 0M609.35 149.14a2.0 2.0 0 1 0 4.0 0a2.0 2.0 0 1 0 -4.0 0M610.26 139.25a2.0 2.0 0 1 0 4.0 0a2.0 2.0 0 1 0 -4.0 0M611.16 141.62a2.0 2.0 0 1 0 4.0 0a2.0 2.0 0 1 0 -4.0 0M612.06 137.93a2.0 2.0 0 1 0 4.0 0a2.0 2.0 0 1 0 -4.0 0M612.97 140.81a2.0 2.0 0 1 0 4.0 0a2.0 2.0 0 1 0 -4.0 0M613.87 137.54a2.0 2.0 0 1 0 4.0 0a2.0 2.0 0 1 0 -4.0 0M614.78 134.95a2.0 2.0 0 1 0 4.0 0a2.0 2.0 0 1 0 -4.0 0M615.68 135.30a2.0 2.0 0 1 0 4.0 0a2.0 2.0 0 1 0 -4.0 0M616.58 136.78a2.0 2.0 0 1 0 4.0 0a2.0 2.0 0 1 0 -4.0 0M617.49 140.74a2.0 2.0 0 1 0 4.0 0a2.0 2.0 0 1 0 -4.0 0M618.39 144.51a2.0 2.0 0 1 0 4.0 0a2.0 2.0 0 1 0 -4.0 0M619.30 131.87a2.0 2.0 0 1 0 4.0 0a2.0 2.0 0 1 0 -4.0 0M620.20 131.80a2.0 2.0 0 1 0 4.0 0a2.0 2.0 0 1 0 -4.0 0M621.10 130.95a2.0 2.0 0 1 0 4.0 0a2.0 2.0 0 1 0 -4.0 0M622.01 138.09a2.0 2.0 0 1 0 4.0 0a2.0 2.0 0 1 0 -4.0 0M622.91 123.06a2.0 2.0 0 1 0 4.0 0a2.0 2.0 0 1 0 -4.0 0M623.82 124.95a2.0 2.0 0 1 0 4.0 0a2.0 2.0 0 1 0 -4.0 0M624.72 131.62a2.0 2.0 0 1 0 4.0 0a2.0 2.0 0 1 0 -4.0 0M625.62 135.62a2.0 2.0 0 1 0 4.0 0a2.0 2.0 0 1 0 -4.0 0M626.53 136.88a2.0 2.0 0 1 0 4.0 0a2.0 2.0 0 1 0 -4.0 0M627.43 126.50a2.0 2.0 0 1 0 4.0 0a2.0 2.0 0 1 0 -4.0 0M628.34 131.95a2.0 2.0 0 1 0 4.0 0a2.0 2.0 0 1 0 -4.0 0M629.24 133.06a2.0 2.0 0 1 0 4.0 0a2.0 2.0 0 1 0 -4.0 0M630.14 139.40a2.0 2.0 0 1 0 4.0 0a2.0 2.0 0 1 0 -4.0 0M631.05 140.77a2.0 2.0 0 1 0 4.0 0a2.0 2.0 0 1 0 -4.0 0M631.95 131.29a2.0 2.0 0 1 0 4.0 0a2.0 2.0 0 1 0 -4.0 0M632.86 130.77a2.0 2.0 0 1 0 4.0 0a2.0 2.0 0 1 0 -4.0 0M633.76 134.21a2.0 2.0 0 1 0 4.0 0a2.0 2.0 0 1 0 -4.0 0M634.66 133.62a2.0 2.0 0 1 0 4.0 0a2.0 2.0 0 1 0 -4.0 0M635.57 128.29a2.0 2.0 0 1 0 4.0 0a2.0 2.0 0 1 0 -4.0 0M636.47 127.87a2.0 2.0 0 1 0 4.0 0a2.0 2.0 0 1 0 -4.0 0M637.38 125.90a2.0 2.0 0 1 0 4.0 0a2.0 2.0 0 1 0 -4.0 0M638.28 129.58a2.0 2.0 0 1 0 4.0 0a2.0 2.0 0 1 0 -4.0 0M639.18 128.51a2.0 2.0 0 1 0 4.0 0a2.0 2.0 0 1 0 -4.0 0M640.09 123.61a2.0 2.0 0 1 0 4.0 0a2.0 2.0 0 1 0 -4.0 0M640.99 132.38a2.0 2.0 0 1 0 4.0 0a2.0 2.0 0 1 0 -4.0 0M641.90 132.10a2.0 2.0 0 1 0 4.0 0a2.0 2.0 0 1 0 -4.0 0M642.80 128.37a2.0 2.0 0 1 0 4.0 0a2.0 2.0 0 1 0 -4.0 0M643.70 125.60a2.0 2.0 0 1 0 4.0 0a2.0 2.0 0 1 0 -4.0 0M644.61 122.45a2.0 2.0 0 1 0 4.0 0a2.0 2.0 0 1 0 -4.0 0M645.51 132.51a2.0 2.0 0 1 0 4.0 0a2.0 2.0 0 1 0 -4.0 0M646.42 120.58a2.0 2.0 0 1 0 4.0 0a2.0 2.0 0 1 0 -4.0 0M647.32 125.81a2.0 2.0 0 1 0 4.0 0a2.0 2.0 0 1 0 -4.0 0M648.22 128.62a2.0 2.0 0 1 0 4.0 0a2.0 2.0 0 1 0 -4.0 0M649.13 129.02a2.0 2.0 0 1 0 4.0 0a2.0 2.0 0 1 0 -4.0 0M650.03 124.83a2.0 2.0 0 1 0 4.0 0a2.0 2.0 0 1 0 -4.0 0M650.94 113.34a2.0 2.0 0 1 0 4.0 0a2.0 2.0 0 1 0 -4.0 0M651.84 122.79a2.0 2.0 0 1 0 4.0 0a2.0 2.0 0 1 0 -4.0 0M652.74 116.07a2.0 2.0 0 1 0 4.0 0a2.0 2.0 0 1 0 -4.0 0M653.65 110.08a2.0 2.0 0 1 0 4.0 0a2.0 2.0 0 1 0 -4.0 0M654.55 115.18a2.0 2.0 0 1 0 4.0 0a2.0 2.0 0 1 0 -4.0 0M655.46 113.93a2.0 2.0 0 1 0 4.0 0a2.0 2.0 0 1 0 -4.0 0M656.36 110.36a2.0 2.0 0 1 0 4.0 0a2.0 2.0 0 1 0 -4.0 0M657.26 115.02a2.0 2.0 0 1 0 4.0 0a2.0 2.0 0 1 0 -4.0 0M658.17 118.63a2.0 2.0 0 1 0 4.0 0a2.0 2.0 0 1 0 -4.0 0M659.07 107.82a2.0 2.0 0 1 0 4.0 0a2.0 2.0 0 1 0 -4.0 0M659.98 113.81a2.0 2.0 0 1 0 4.0 0a2.0 2.0 0 1 0 -4.0 0M660.88 108.43a2.0 2.0 0 1 0 4.0 0a2.0 2.0 0 1 0 -4.0 0M661.78 115.95a2.0 2.0 0 1 0 4.0 0a2.0 2.0 0 1 0 -4.0 0M662.69 116.17a2.0 2.0 0 1 0 4.0 0a2.0 2.0 0 1 0 -4.0 0M663.59 120.24a2.0 2.0 0 1 0 4.0 0a2.0 2.0 0 1 0 -4.0 0M664.50 115.08a2.0 2.0 0 1 0 4.0 0a2.0 2.0 0 1 0 -4.0 0M665.40 113.67a2.0 2.0 0 1 0 4.0 0a2.0 2.0 0 1 0 -4.0 0M666.30 117.29a2.0 2.0 0 1 0 4.0 0a2.0 2.0 0 1 0 -4.0 0M667.21 121.90a2.0 2.0 0 1 0 4.0 0a2.0 2.0 0 1 0 -4.0 0M668.11 118.10a2.0 2.0 0 1 0 4.0 0a2.0 2.0 0 1 0 -4.0 0M669.02 114.95a2.0 2.0 0 1 0 4.0 0a2.0 2.0 0 1 0 -4.0 0M669.92 113.67a2.0 2.0 0 1 0 4.0 0a2.0 2.0 0 1 0 -4.0 0M670.82 107.25a2.0 2.0 0 1 0 4.0 0a2.0 2.0 0 1 0 -4.0 0M671.73 113.02a2.0 2.0 0 1 0 4.0 0a2.0 2.0 0 1 0 -4.0 0M672.63 114.31a2.0 2.0 0 1 0 4.0 0a2.0 2.0 0 1 0 -4.0 0M673.54 114.43a2.0 2.0 0 1 0 4.0 0a2.0 2.0 0 1 0 -4.0 0M674.44 124.51a2.0 2.0 0 1 0 4.0 0a2.0 2.0 0 1 0 -4.0 0M675.34 111.73a2.0 2.0 0 1 0 4.0 0a2.0 2.0 0 1 0 -4.0 0M676.25 117.34a2.0 2.0 0 1 0 4.0 0a2.0 2.0 0 1 0 -4.0 0M677.15 119.44a2.0 2.0 0 1 0 4.0 0a2.0 2.0 0 1 0 -4.0 0M678.06 120.01a2.0 2.0 0 1 0 4.0 0a2.0 2.0 0 1 0 -4.0 0M678.96 123.45a2.0 2.0 0 1 0 4.0 0a2.0 2.0 0 1 0 -4.0 0M679.86 114.49a2.0 2.0 0 1 0 4.0 0a2.0 2.0 0 1 0 -4.0 0M680.77 122.95a2.0 2.0 0 1 0 4.0 0a2.0 2.0 0 1 0 -4.0 0M681.67 114.60a2.0 2.0 0 1 0 4.0 0a2.0 2.0 0 1 0 -4.0 0M682.58 116.41a2.0 2.0 0 1 0 4.0 0a2.0 2.0 0 1 0 -4.0 0M683.48 95.34a2.0 2.0 0 1 0 4.0 0a2.0 2.0 0 1 0 -4.0 0M684.38 101.85a2.0 2.0 0 1 0 4.0 0a2.0 2.0 0 1 0 -4.0 0" fill="#000"/>
<path d="M39.40 29.50L40.00 50.90M40.00 50.90Q41.10 37.62 42.70 32.00M47.45 29.50L47.70 54.30M47.70 54.30Q48.80 39.05 50.40 32.00M54.65 29.50L54.90 54.30M54.90 54.30Q56.00 39.05 57.60 32.00M62.35 29.50L62.60 53.00M62.60 53.00Q63.70 38.50 65.30 32.00M69.55 29.50L69.80 56.00M69.80 56.00Q70.90 39.76 72.50 32.00M76.85 29.50L77.10 60.00M77.10 60.00Q78.20 41.44 79.80 32.00M84.35 29.50L84.60 53.70M84.60 53.70Q85.70 38.79 87.30 32.00M91.65 29.50L91.90 58.30M91.90 58.30Q93.00 40.73 94.60 32.00M98.85 29.50L99.10 59.40M99.10 59.40Q100.20 41.19 101.80 32.00M106.65 29.50L106.90 66.00M106.90 66.00Q108.00 43.96 109.60 32.00M114.15 29.50L114.40 56.60M114.40 56.60Q115.50 40.01 117.10 32.00M121.35 29.50L121.60 63.00M121.60 63.00Q122.70 42.70 124.30 32.00M129.35 29.50L129.60 63.70M129.60 63.70Q130.70 42.99 132.30 32.00M136.35 29.50L136.60 59.20M136.60 59.20Q137.70 41.10 139.30 32.00M143.45 29.50L143.70 56.00M143.70 56.00Q144.80 39.76 146.40 32.00M151.15 29.50L151.40 58.60M151.40 58.60Q152.50 40.85 154.10 32.00M158.85 29.50L159.10 58.60M159.10 58.60Q160.20 40.85 161.80 32.00M165.95 29.50L166.20 58.60M166.20 58.60Q167.30 40.85 168.90 32.00M173.25 29.50L173.50 59.20M173.50 59.20Q174.60 41.10 176.20 32.00" stroke="#505050" stroke-width="0.9" fill="none"/>
<path d="M35.10 28.30Q38.40 27.40 39.40 29.50M42.70 32.00C43.00 29.20 44.30 27.80 47.20 27.50L47.45 29.50M50.40 32.00C50.70 29.20 52.00 27.80 54.40 27.50L54.65 29.50M57.60 32.00C57.90 29.20 59.20 27.80 62.10 27.50L62.35 29.50M65.30 32.00C65.60 29.20 66.90 27.80 69.30 27.50L69.55 29.50M72.50 32.00C72.80 29.20 74.10 27.80 76.60 27.50L76.85 29.50M79.80 32.00C80.10 29.20 81.40 27.80 84.10 27.50L84.35 29.50M87.30 32.00C87.60 29.20 88.90 27.80 91.40 27.50L91.65 29.50M94.60 32.00C94.90 29.20 96.20 27.80 98.60 27.50L98.85 29.50M101.80 32.00C102.10 29.20 103.40 27.80 106.40 27.50L106.65 29.50M109.60 32.00C109.90 29.20 111.20 27.80 113.90 27.50L114.15 29.50M117.10 32.00C117.40 29.20 118.70 27.80 121.10 27.50L121.35 29.50M124.30 32.00C124.60 29.20 125.90 27.80 129.10 27.50L129.35 29.50M132.30 32.00C132.60 29.20 133.90 27.80 136.10 27.50L136.35 29.50M139.30 32.00C139.60 29.20 140.90 27.80 143.20 27.50L143.45 29.50M146.40 32.00C146.70 29.20 148.00 27.80 150.90 27.50L151.15 29.50M154.10 32.00C154.40 29.20 155.70 27.80 158.60 27.50L158.85 29.50M161.80 32.00C162.10 29.20 163.40 27.80 165.70 27.50L165.95 29.50M168.90 32.00C169.20 29.20 170.50 27.80 173.00 27.50L173.25 29.50M176.20 32.00Q176.60 28.60 178.70 27.70" stroke="#2a2a2a" stroke-width="1.1" fill="none" stroke-linejoin="round" stroke-linecap="round"/>
<path d="M224.70 29.90L225.30 41.00M225.30 41.00Q226.40 33.69 228.00 32.40M232.05 29.90L232.30 51.00M232.30 51.00Q233.40 37.89 235.00 32.40M239.15 29.90L239.40 69.70M239.40 69.70Q240.50 45.75 242.10 32.40M246.25 29.90L246.50 72.50M246.50 72.50Q247.60 46.92 249.20 32.40M253.25 29.90L253.50 82.90M253.50 82.90Q254.60 51.29 256.20 32.40M260.15 29.90L260.40 87.20M260.40 87.20Q261.50 53.10 263.10 32.40M267.25 29.90L267.50 98.80M267.50 98.80Q268.60 57.97 270.20 32.40M274.15 29.90L274.40 89.40M274.40 89.40Q275.50 54.02 277.10 32.40M280.95 29.90L281.20 93.20M281.20 93.20Q282.30 55.62 283.90 32.40M287.95 29.90L288.20 86.60M288.20 86.60Q289.30 52.84 290.90 32.40M294.75 29.90L295.00 94.10M295.00 94.10Q296.10 55.99 297.70 32.40M301.65 29.90L301.90 88.50M301.90 88.50Q303.00 53.64 304.60 32.40M308.55 29.90L308.80 86.00M308.80 86.00Q309.90 52.59 311.50 32.40M315.35 29.90L315.60 91.30M315.60 91.30Q316.70 54.82 318.30 32.40M322.25 29.90L322.50 96.00M322.50 96.00Q323.60 56.79 325.20 32.40M329.25 29.90L329.50 94.10M329.50 94.10Q330.60 55.99 332.20 32.40M335.95 29.90L336.20 89.40M336.20 89.40Q337.30 54.02 338.90 32.40M342.95 29.90L343.20 91.30M343.20 91.30Q344.30 54.82 345.90 32.40M350.05 29.90L350.30 89.40M350.30 89.40Q351.40 54.02 353.00 32.40" stroke="#505050" stroke-width="0.9" fill="none"/>
<path d="M222.90 28.70Q223.70 27.80 224.70 29.90M228.00 32.40C228.30 29.60 229.60 28.20 231.80 27.90L232.05 29.90M235.00 32.40C235.30 29.60 236.60 28.20 238.90 27.90L239.15 29.90M242.10 32.40C242.40 29.60 243.70 28.20 246.00 27.90L246.25 29.90M249.20 32.40C249.50 29.60 250.80 28.20 253.00 27.90L253.25 29.90M256.20 32.40C256.50 29.60 257.80 28.20 259.90 27.90L260.15 29.90M263.10 32.40C263.40 29.60 264.70 28.20 267.00 27.90L267.25 29.90M270.20 32.40C270.50 29.60 271.80 28.20 273.90 27.90L274.15 29.90M277.10 32.40C277.40 29.60 278.70 28.20 280.70 27.90L280.95 29.90M283.90 32.40C284.20 29.60 285.50 28.20 287.70 27.90L287.95 29.90M290.90 32.40C291.20 29.60 292.50 28.20 294.50 27.90L294.75 29.90M297.70 32.40C298.00 29.60 299.30 28.20 301.40 27.90L301.65 29.90M304.60 32.40C304.90 29.60 306.20 28.20 308.30 27.90L308.55 29.90M311.50 32.40C311.80 29.60 313.10 28.20 315.10 27.90L315.35 29.90M318.30 32.40C318.60 29.60 319.90 28.20 322.00 27.90L322.25 29.90M325.20 32.40C325.50 29.60 326.80 28.20 329.00 27.90L329.25 29.90M332.20 32.40C332.50 29.60 333.80 28.20 335.70 27.90L335.95 29.90M338.90 32.40C339.20 29.60 340.50 28.20 342.70 27.90L342.95 29.90M345.90 32.40C346.20 29.60 347.50 28.20 349.80 27.90L350.05 29.90M353.00 32.40Q353.40 29.00 354.40 28.10" stroke="#2a2a2a" stroke-width="1.1" fill="none" stroke-linejoin="round" stroke-linecap="round"/>
<path d="M389.50 32.00L390.10 42.60M390.10 42.60Q391.20 35.58 392.80 34.50M396.75 32.00L397.00 50.30M397.00 50.30Q398.10 38.82 399.70 34.50M403.75 32.00L404.00 62.30M404.00 62.30Q405.10 43.86 406.70 34.50M410.95 32.00L411.20 71.00M411.20 71.00Q412.30 47.51 413.90 34.50M418.05 32.00L418.30 64.50M418.30 64.50Q419.40 44.78 421.00 34.50M424.85 32.00L425.10 64.50M425.10 64.50Q426.20 44.78 427.80 34.50M431.75 32.00L432.00 68.10M432.00 68.10Q433.10 46.29 434.70 34.50M439.05 32.00L439.30 73.20M439.30 73.20Q440.40 48.43 442.00 34.50M446.05 32.00L446.30 63.80M446.30 63.80Q447.40 44.49 449.00 34.50M452.75 32.00L453.00 75.20M453.00 75.20Q454.10 49.27 455.70 34.50M459.65 32.00L459.90 73.20M459.90 73.20Q461.00 48.43 462.60 34.50M466.65 32.00L466.90 79.00M466.90 79.00Q468.00 50.87 469.60 34.50M473.95 32.00L474.20 76.10M474.20 76.10Q475.30 49.65 476.90 34.50M480.45 32.00L480.70 74.70M480.70 74.70Q481.80 49.06 483.40 34.50M487.75 32.00L488.00 76.10M488.00 76.10Q489.10 49.65 490.70 34.50M494.65 32.00L494.90 77.60M494.90 77.60Q496.00 50.28 497.60 34.50M501.65 32.00L501.90 76.10M501.90 76.10Q503.00 49.65 504.60 34.50M508.55 32.00L508.80 75.40M508.80 75.40Q509.90 49.36 511.50 34.50M515.85 32.00L516.10 77.60M516.10 77.60Q517.20 50.28 518.80 34.50" stroke="#505050" stroke-width="0.9" fill="none"/>
<path d="M387.20 30.80Q388.50 29.90 389.50 32.00M392.80 34.50C393.10 31.70 394.40 30.30 396.50 30.00L396.75 32.00M399.70 34.50C400.00 31.70 401.30 30.30 403.50 30.00L403.75 32.00M406.70 34.50C407.00 31.70 408.30 30.30 410.70 30.00L410.95 32.00M413.90 34.50C414.20 31.70 415.50 30.30 417.80 30.00L418.05 32.00M421.00 34.50C421.30 31.70 422.60 30.30 424.60 30.00L424.85 32.00M427.80 34.50C428.10 31.70 429.40 30.30 431.50 30.00L431.75 32.00M434.70 34.50C435.00 31.70 436.30 30.30 438.80 30.00L439.05 32.00M442.00 34.50C442.30 31.70 443.60 30.30 445.80 30.00L446.05 32.00M449.00 34.50C449.30 31.70 450.60 30.30 452.50 30.00L452.75 32.00M455.70 34.50C456.00 31.70 457.30 30.30 459.40 30.00L459.65 32.00M462.60 34.50C462.90 31.70 464.20 30.30 466.40 30.00L466.65 32.00M469.60 34.50C469.90 31.70 471.20 30.30 473.70 30.00L473.95 32.00M476.90 34.50C477.20 31.70 478.50 30.30 480.20 30.00L480.45 32.00M483.40 34.50C483.70 31.70 485.00 30.30 487.50 30.00L487.75 32.00M490.70 34.50C491.00 31.70 492.30 30.30 494.40 30.00L494.65 32.00M497.60 34.50C497.90 31.70 499.20 30.30 501.40 30.00L501.65 32.00M504.60 34.50C504.90 31.70 506.20 30.30 508.30 30.00L508.55 32.00M511.50 34.50C511.80 31.70 513.10 30.30 515.60 30.00L515.85 32.00M518.80 34.50Q519.20 31.10 518.20 30.20" stroke="#2a2a2a" stroke-width="1.1" fill="none" stroke-linejoin="round" stroke-linecap="round"/>
<path d="M563.40 32.90L564.00 46.30M564.00 46.30Q565.10 37.66 566.70 35.40M570.75 32.90L571.00 51.40M571.00 51.40Q572.10 39.80 573.70 35.40M577.65 32.90L577.90 58.60M577.90 58.60Q579.00 42.82 580.60 35.40M584.65 32.90L584.90 63.00M584.90 63.00Q586.00 44.67 587.60 35.40M591.55 32.90L591.80 57.60M591.80 57.60Q592.90 42.40 594.50 35.40M598.55 32.90L598.80 62.30M598.80 62.30Q599.90 44.38 601.50 35.40M605.55 32.90L605.80 61.60M605.80 61.60Q606.90 44.08 608.50 35.40M612.35 32.90L612.60 71.00M612.60 71.00Q613.70 48.03 615.30 35.40M619.05 32.90L619.30 71.70M619.30 71.70Q620.40 48.33 622.00 35.40M626.15 32.90L626.40 66.60M626.40 66.60Q627.50 46.18 629.10 35.40M632.95 32.90L633.20 64.50M633.20 64.50Q634.30 45.30 635.90 35.40M640.25 32.90L640.50 77.60M640.50 77.60Q641.60 50.80 643.20 35.40M646.85 32.90L647.10 63.70M647.10 63.70Q648.20 44.97 649.80 35.40M653.85 32.90L654.10 68.10M654.10 68.10Q655.20 46.81 656.80 35.40M660.65 32.90L660.90 73.90M660.90 73.90Q662.00 49.25 663.60 35.40M667.55 32.90L667.80 76.10M667.80 76.10Q668.90 50.17 670.50 35.40M674.55 32.90L674.80 79.80M674.80 79.80Q675.90 51.73 677.50 35.40M681.55 32.90L681.80 76.10M681.80 76.10Q682.90 50.17 684.50 35.40M688.35 32.90L688.60 76.90M688.60 76.90Q689.70 50.51 691.30 35.40" stroke="#505050" stroke-width="0.9" fill="none"/>
<path d="M560.80 31.70Q562.40 30.80 563.40 32.90M566.70 35.40C567.00 32.60 568.30 31.20 570.50 30.90L570.75 32.90M573.70 35.40C574.00 32.60 575.30 31.20 577.40 30.90L577.65 32.90M580.60 35.40C580.90 32.60 582.20 31.20 584.40 30.90L584.65 32.90M587.60 35.40C587.90 32.60 589.20 31.20 591.30 30.90L591.55 32.90M594.50 35.40C594.80 32.60 596.10 31.20 598.30 30.90L598.55 32.90M601.50 35.40C601.80 32.60 603.10 31.20 605.30 30.90L605.55 32.90M608.50 35.40C608.80 32.60 610.10 31.20 612.10 30.90L612.35 32.90M615.30 35.40C615.60 32.60 616.90 31.20 618.80 30.90L619.05 32.90M622.00 35.40C622.30 32.60 623.60 31.20 625.90 30.90L626.15 32.90M629.10 35.40C629.40 32.60 630.70 31.20 632.70 30.90L632.95 32.90M635.90 35.40C636.20 32.60 637.50 31.20 640.00 30.90L640.25 32.90M643.20 35.40C643.50 32.60 644.80 31.20 646.60 30.90L646.85 32.90M649.80 35.40C650.10 32.60 651.40 31.20 653.60 30.90L653.85 32.90M656.80 35.40C657.10 32.60 658.40 31.20 660.40 30.90L660.65 32.90M663.60 35.40C663.90 32.60 665.20 31.20 667.30 30.90L667.55 32.90M670.50 35.40C670.80 32.60 672.10 31.20 674.30 30.90L674.55 32.90M677.50 35.40C677.80 32.60 679.10 31.20 681.30 30.90L681.55 32.90M684.50 35.40C684.80 32.60 686.10 31.20 688.10 30.90L688.35 32.90M691.30 35.40Q691.70 32.00 692.50 31.10" stroke="#2a2a2a" stroke-width="1.1" fill="none" stroke-linejoin="round" stroke-linecap="round"/>
<line x1="29.6" y1="25" x2="29.6" y2="59" stroke="#333" stroke-width="1.1"/>
<text x="0.00" y="0.00" font-size="8.6" text-anchor="middle" fill="#000" font-weight="bold" transform="translate(22.6,40.5) rotate(-90)">50 nA</text>
<line x1="56" y1="90.6" x2="88.5" y2="90.6" stroke="#222" stroke-width="1"/>
<text x="72.20" y="85.50" font-size="8.6" text-anchor="middle" fill="#000" font-weight="bold" >200 ms</text>
<rect x="96.6" y="90.6" width="1" height="1" fill="#555"/>
<text x="0.00" y="0.00" font-size="16.2" text-anchor="middle" fill="#000" transform="translate(17.2,124.3) rotate(-90)">(I-I<tspan font-size="12" dy="5">0</tspan><tspan dy="-5">)/I</tspan><tspan font-size="12" dy="5">0</tspan></text>
<line x1="100.0" y1="288.25" x2="100.0" y2="416.0" stroke="#606060" stroke-width="1"/>
<line x1="96.5" y1="416.00" x2="100.0" y2="416.00" stroke="#606060" stroke-width="0.9"/>
<text x="94.00" y="419.80" font-size="10.8" text-anchor="end" fill="#000" >0</text>
<line x1="96.5" y1="390.45" x2="100.0" y2="390.45" stroke="#606060" stroke-width="0.9"/>
<text x="94.00" y="394.25" font-size="10.8" text-anchor="end" fill="#000" >1</text>
<line x1="96.5" y1="364.90" x2="100.0" y2="364.90" stroke="#606060" stroke-width="0.9"/>
<text x="94.00" y="368.70" font-size="10.8" text-anchor="end" fill="#000" >2</text>
<line x1="96.5" y1="339.35" x2="100.0" y2="339.35" stroke="#606060" stroke-width="0.9"/>
<text x="94.00" y="343.15" font-size="10.8" text-anchor="end" fill="#000" >3</text>
<line x1="96.5" y1="313.80" x2="100.0" y2="313.80" stroke="#606060" stroke-width="0.9"/>
<text x="94.00" y="317.60" font-size="10.8" text-anchor="end" fill="#000" >4</text>
<line x1="96.5" y1="288.25" x2="100.0" y2="288.25" stroke="#606060" stroke-width="0.9"/>
<text x="94.00" y="292.05" font-size="10.8" text-anchor="end" fill="#000" >5</text>
<line x1="98.2" y1="403.23" x2="100.0" y2="403.23" stroke="#606060" stroke-width="0.9"/>
<line x1="98.2" y1="377.68" x2="100.0" y2="377.68" stroke="#606060" stroke-width="0.9"/>
<line x1="98.2" y1="352.12" x2="100.0" y2="352.12" stroke="#606060" stroke-width="0.9"/>
<line x1="98.2" y1="326.57" x2="100.0" y2="326.57" stroke="#606060" stroke-width="0.9"/>
<line x1="98.2" y1="301.02" x2="100.0" y2="301.02" stroke="#606060" stroke-width="0.9"/>
<line x1="100" y1="416.0" x2="210" y2="416.0" stroke="#606060" stroke-width="1"/>
<line x1="113.2" y1="416.0" x2="113.2" y2="419.5" stroke="#606060" stroke-width="0.9"/>
<line x1="141.3" y1="416.0" x2="141.3" y2="419.5" stroke="#606060" stroke-width="0.9"/>
<line x1="168.6" y1="416.0" x2="168.6" y2="419.5" stroke="#606060" stroke-width="0.9"/>
<line x1="196.0" y1="416.0" x2="196.0" y2="419.5" stroke="#606060" stroke-width="0.9"/>
<line x1="113.35" y1="373.30" x2="113.35" y2="380.00" stroke="#6a6a6a" stroke-width="1"/>
<line x1="111.05" y1="373.30" x2="115.65" y2="373.30" stroke="#333" stroke-width="1"/>
<rect x="105.70" y="380.00" width="15.30" height="36.00" fill="#000" stroke="#000" stroke-width="0.6"/>
<line x1="141.25" y1="328.00" x2="141.25" y2="335.00" stroke="#6a6a6a" stroke-width="1"/>
<line x1="138.95" y1="328.00" x2="143.55" y2="328.00" stroke="#333" stroke-width="1"/>
<rect x="133.80" y="335.00" width="14.90" height="81.00" fill="#000" stroke="#000" stroke-width="0.6"/>
<line x1="168.55" y1="295.60" x2="168.55" y2="306.40" stroke="#6a6a6a" stroke-width="1"/>
<line x1="166.25" y1="295.60" x2="170.85" y2="295.60" stroke="#333" stroke-width="1"/>
<rect x="161.10" y="306.40" width="14.90" height="109.60" fill="#000" stroke="#000" stroke-width="0.6"/>
<line x1="196.00" y1="309.80" x2="196.00" y2="332.10" stroke="#6a6a6a" stroke-width="1"/>
<line x1="193.70" y1="309.80" x2="198.30" y2="309.80" stroke="#333" stroke-width="1"/>
<rect x="188.50" y="332.10" width="15.00" height="83.90" fill="#000" stroke="#000" stroke-width="0.6"/>
<path d="M141.20 321.70L141.20 319.30M141.20 322.50L141.20 324.90M141.55 321.90L144.23 320.35M140.85 321.90L138.17 320.35M140.85 322.30L138.17 323.85M141.55 322.30L144.23 323.85" stroke="#000" stroke-width="1.15" fill="none" stroke-linecap="round"/>
<path d="M168.80 290.60L168.80 288.20M168.80 291.40L168.80 293.80M169.15 290.80L171.83 289.25M168.45 290.80L165.77 289.25M168.45 291.20L165.77 292.75M169.15 291.20L171.83 292.75" stroke="#000" stroke-width="1.15" fill="none" stroke-linecap="round"/>
<path d="M168.80 282.70L168.80 280.30M168.80 283.50L168.80 285.90M169.15 282.90L171.83 281.35M168.45 282.90L165.77 281.35M168.45 283.30L165.77 284.85M169.15 283.30L171.83 284.85" stroke="#000" stroke-width="1.15" fill="none" stroke-linecap="round"/>
<path d="M196.30 303.30L196.30 300.90M196.30 304.10L196.30 306.50M196.65 303.50L199.33 301.95M195.95 303.50L193.27 301.95M195.95 303.90L193.27 305.45M196.65 303.90L199.33 305.45" stroke="#000" stroke-width="1.15" fill="none" stroke-linecap="round"/>
<text x="0.00" y="0.00" font-size="16" text-anchor="start" fill="#000" transform="translate(75.6,410.2) rotate(-90)">Facilitation (I-I<tspan font-size="11.5" dy="4">0</tspan><tspan dy="-4">)/I</tspan><tspan font-size="11.5" dy="4">0</tspan></text>
<text x="0.00" y="0.00" font-size="16" text-anchor="end" fill="#000" font-style="italic" transform="translate(116.20,433.50) rotate(-51)">WT</text>
<text x="0.00" y="0.00" font-size="16" text-anchor="end" fill="#000" font-style="italic" transform="translate(144.30,433.50) rotate(-51)">dlg <tspan font-size="12" dy="-7">XI-2</tspan></text>
<text x="0.00" y="0.00" font-size="16" text-anchor="end" fill="#000" font-style="italic" transform="translate(171.60,433.50) rotate(-51)">dlgS97<tspan font-size="12" dy="-7" dx="0.8">5</tspan></text>
<text x="0.00" y="0.00" font-size="16" text-anchor="end" fill="#000" font-style="italic" transform="translate(199.00,433.50) rotate(-51)">dlgA <tspan font-size="12" dy="-7">40.2</tspan></text>
<line x1="315.1" y1="288.40" x2="315.1" y2="415.3" stroke="#606060" stroke-width="1"/>
<line x1="311.6" y1="415.30" x2="315.1" y2="415.30" stroke="#606060" stroke-width="0.9"/>
<text x="309.10" y="419.10" font-size="10.8" text-anchor="end" fill="#000" >0</text>
<line x1="311.6" y1="394.15" x2="315.1" y2="394.15" stroke="#606060" stroke-width="0.9"/>
<text x="309.10" y="397.95" font-size="10.8" text-anchor="end" fill="#000" >1</text>
<line x1="311.6" y1="373.00" x2="315.1" y2="373.00" stroke="#606060" stroke-width="0.9"/>
<text x="309.10" y="376.80" font-size="10.8" text-anchor="end" fill="#000" >2</text>
<line x1="311.6" y1="351.85" x2="315.1" y2="351.85" stroke="#606060" stroke-width="0.9"/>
<text x="309.10" y="355.65" font-size="10.8" text-anchor="end" fill="#000" >3</text>
<line x1="311.6" y1="330.70" x2="315.1" y2="330.70" stroke="#606060" stroke-width="0.9"/>
<text x="309.10" y="334.50" font-size="10.8" text-anchor="end" fill="#000" >4</text>
<line x1="311.6" y1="309.55" x2="315.1" y2="309.55" stroke="#606060" stroke-width="0.9"/>
<text x="309.10" y="313.35" font-size="10.8" text-anchor="end" fill="#000" >5</text>
<line x1="311.6" y1="288.40" x2="315.1" y2="288.40" stroke="#606060" stroke-width="0.9"/>
<text x="309.10" y="292.20" font-size="10.8" text-anchor="end" fill="#000" >6</text>
<line x1="313.3" y1="404.73" x2="315.1" y2="404.73" stroke="#606060" stroke-width="0.9"/>
<line x1="313.3" y1="383.57" x2="315.1" y2="383.57" stroke="#606060" stroke-width="0.9"/>
<line x1="313.3" y1="362.43" x2="315.1" y2="362.43" stroke="#606060" stroke-width="0.9"/>
<line x1="313.3" y1="341.28" x2="315.1" y2="341.28" stroke="#606060" stroke-width="0.9"/>
<line x1="313.3" y1="320.12" x2="315.1" y2="320.12" stroke="#606060" stroke-width="0.9"/>
<line x1="313.3" y1="298.98" x2="315.1" y2="298.98" stroke="#606060" stroke-width="0.9"/>
<line x1="315.1" y1="415.3" x2="425" y2="415.3" stroke="#606060" stroke-width="1"/>
<line x1="328.6" y1="415.3" x2="328.6" y2="418.8" stroke="#606060" stroke-width="0.9"/>
<line x1="356.6" y1="415.3" x2="356.6" y2="418.8" stroke="#606060" stroke-width="0.9"/>
<line x1="383.6" y1="415.3" x2="383.6" y2="418.8" stroke="#606060" stroke-width="0.9"/>
<line x1="411.0" y1="415.3" x2="411.0" y2="418.8" stroke="#606060" stroke-width="0.9"/>
<line x1="328.60" y1="354.20" x2="328.60" y2="359.80" stroke="#6a6a6a" stroke-width="1"/>
<line x1="326.30" y1="354.20" x2="330.90" y2="354.20" stroke="#333" stroke-width="1"/>
<rect x="321.50" y="359.80" width="14.20" height="55.50" fill="#000" stroke="#000" stroke-width="0.6"/>
<line x1="356.00" y1="323.50" x2="356.00" y2="326.80" stroke="#6a6a6a" stroke-width="1"/>
<line x1="353.70" y1="323.50" x2="358.30" y2="323.50" stroke="#333" stroke-width="1"/>
<rect x="349.00" y="326.80" width="14.00" height="88.50" fill="#000" stroke="#000" stroke-width="0.6"/>
<line x1="383.30" y1="304.70" x2="383.30" y2="319.30" stroke="#6a6a6a" stroke-width="1"/>
<line x1="381.00" y1="304.70" x2="385.60" y2="304.70" stroke="#333" stroke-width="1"/>
<rect x="376.40" y="319.30" width="13.80" height="96.00" fill="#000" stroke="#000" stroke-width="0.6"/>
<line x1="411.20" y1="276.20" x2="411.20" y2="295.00" stroke="#6a6a6a" stroke-width="1"/>
<line x1="408.90" y1="276.20" x2="413.50" y2="276.20" stroke="#333" stroke-width="1"/>
<rect x="404.20" y="295.00" width="14.00" height="120.30" fill="#000" stroke="#000" stroke-width="0.6"/>
<path d="M410.50 270.40L410.50 268.00M410.50 271.20L410.50 273.60M410.85 270.60L413.53 269.05M410.15 270.60L407.47 269.05M410.15 271.00L407.47 272.55M410.85 271.00L413.53 272.55" stroke="#333" stroke-width="1.15" fill="none" stroke-linecap="round"/>
<path d="M410.50 263.00L410.50 260.60M410.50 263.80L410.50 266.20M410.85 263.20L413.53 261.65M410.15 263.20L407.47 261.65M410.15 263.60L407.47 265.15M410.85 263.60L413.53 265.15" stroke="#333" stroke-width="1.15" fill="none" stroke-linecap="round"/>
<text x="0.00" y="0.00" font-size="15.6" text-anchor="start" fill="#000" transform="translate(294.9,424.2) rotate(-90)">Augmentation (I-I<tspan font-size="11.5" dy="4">0</tspan><tspan dy="-4">)/I</tspan><tspan font-size="11.5" dy="4">0</tspan></text>
<text x="0.00" y="0.00" font-size="16" text-anchor="end" fill="#000" font-style="italic" transform="translate(333.60,432.80) rotate(-51)">WT</text>
<text x="0.00" y="0.00" font-size="16" text-anchor="end" fill="#000" font-style="italic" transform="translate(361.60,432.80) rotate(-51)">dlg <tspan font-size="12" dy="-7">XI-2</tspan></text>
<text x="0.00" y="0.00" font-size="16" text-anchor="end" fill="#000" font-style="italic" transform="translate(388.60,432.80) rotate(-51)">dlgS97<tspan font-size="12" dy="-7" dx="0.8">5</tspan></text>
<text x="0.00" y="0.00" font-size="16" text-anchor="end" fill="#000" font-style="italic" transform="translate(416.00,432.80) rotate(-51)">dlgA <tspan font-size="12" dy="-7">40.2</tspan></text>
<line x1="535.0" y1="287.70" x2="535.0" y2="415.2" stroke="#606060" stroke-width="1"/>
<line x1="531.5" y1="415.20" x2="535.0" y2="415.20" stroke="#606060" stroke-width="0.9"/>
<text x="529.00" y="419.00" font-size="10.8" text-anchor="end" fill="#000" >0</text>
<line x1="531.5" y1="389.70" x2="535.0" y2="389.70" stroke="#606060" stroke-width="0.9"/>
<text x="529.00" y="393.50" font-size="10.8" text-anchor="end" fill="#000" >0.5</text>
<line x1="531.5" y1="364.20" x2="535.0" y2="364.20" stroke="#606060" stroke-width="0.9"/>
<text x="529.00" y="368.00" font-size="10.8" text-anchor="end" fill="#000" >1</text>
<line x1="531.5" y1="338.70" x2="535.0" y2="338.70" stroke="#606060" stroke-width="0.9"/>
<text x="529.00" y="342.50" font-size="10.8" text-anchor="end" fill="#000" >1.5</text>
<line x1="531.5" y1="313.20" x2="535.0" y2="313.20" stroke="#606060" stroke-width="0.9"/>
<text x="529.00" y="317.00" font-size="10.8" text-anchor="end" fill="#000" >2</text>
<line x1="531.5" y1="287.70" x2="535.0" y2="287.70" stroke="#606060" stroke-width="0.9"/>
<text x="529.00" y="291.50" font-size="10.8" text-anchor="end" fill="#000" >2.5</text>
<line x1="533.2" y1="402.45" x2="535.0" y2="402.45" stroke="#606060" stroke-width="0.9"/>
<line x1="533.2" y1="376.95" x2="535.0" y2="376.95" stroke="#606060" stroke-width="0.9"/>
<line x1="533.2" y1="351.45" x2="535.0" y2="351.45" stroke="#606060" stroke-width="0.9"/>
<line x1="533.2" y1="325.95" x2="535.0" y2="325.95" stroke="#606060" stroke-width="0.9"/>
<line x1="533.2" y1="300.45" x2="535.0" y2="300.45" stroke="#606060" stroke-width="0.9"/>
<line x1="644.6" y1="287.50" x2="644.6" y2="415.2" stroke="#606060" stroke-width="1"/>
<line x1="644.6" y1="415.20" x2="648.1" y2="415.20" stroke="#606060" stroke-width="0.9"/>
<text x="649.60" y="418.90" font-size="10.8" text-anchor="start" fill="#000" >0</text>
<line x1="644.6" y1="389.66" x2="648.1" y2="389.66" stroke="#606060" stroke-width="0.9"/>
<text x="649.60" y="393.36" font-size="10.8" text-anchor="start" fill="#000" >0.2</text>
<line x1="644.6" y1="364.12" x2="648.1" y2="364.12" stroke="#606060" stroke-width="0.9"/>
<text x="649.60" y="367.82" font-size="10.8" text-anchor="start" fill="#000" >0.4</text>
<line x1="644.6" y1="338.58" x2="648.1" y2="338.58" stroke="#606060" stroke-width="0.9"/>
<text x="649.60" y="342.28" font-size="10.8" text-anchor="start" fill="#000" >0.6</text>
<line x1="644.6" y1="313.04" x2="648.1" y2="313.04" stroke="#606060" stroke-width="0.9"/>
<text x="649.60" y="316.74" font-size="10.8" text-anchor="start" fill="#000" >0.8</text>
<line x1="644.6" y1="287.50" x2="648.1" y2="287.50" stroke="#606060" stroke-width="0.9"/>
<text x="649.60" y="291.20" font-size="10.8" text-anchor="start" fill="#000" >1</text>
<line x1="644.6" y1="402.43" x2="646.4" y2="402.43" stroke="#606060" stroke-width="0.9"/>
<line x1="644.6" y1="376.89" x2="646.4" y2="376.89" stroke="#606060" stroke-width="0.9"/>
<line x1="644.6" y1="351.35" x2="646.4" y2="351.35" stroke="#606060" stroke-width="0.9"/>
<line x1="644.6" y1="325.81" x2="646.4" y2="325.81" stroke="#606060" stroke-width="0.9"/>
<line x1="644.6" y1="300.27" x2="646.4" y2="300.27" stroke="#606060" stroke-width="0.9"/>
<line x1="535" y1="415.2" x2="646.5" y2="415.2" stroke="#606060" stroke-width="1"/>
<line x1="548.6" y1="415.2" x2="548.6" y2="418.7" stroke="#606060" stroke-width="0.9"/>
<line x1="575.9" y1="415.2" x2="575.9" y2="418.7" stroke="#606060" stroke-width="0.9"/>
<line x1="603.6" y1="415.2" x2="603.6" y2="418.7" stroke="#606060" stroke-width="0.9"/>
<line x1="631.9" y1="415.2" x2="631.9" y2="418.7" stroke="#606060" stroke-width="0.9"/>
<line x1="542.90" y1="339.20" x2="542.90" y2="349.40" stroke="#6a6a6a" stroke-width="1"/>
<line x1="540.60" y1="339.20" x2="545.20" y2="339.20" stroke="#333" stroke-width="1"/>
<rect x="536.90" y="349.40" width="12.00" height="65.80" fill="#000" stroke="#000" stroke-width="0.6"/>
<line x1="554.50" y1="395.50" x2="554.50" y2="401.10" stroke="#6a6a6a" stroke-width="1"/>
<line x1="552.20" y1="395.50" x2="556.80" y2="395.50" stroke="#333" stroke-width="1"/>
<rect x="548.90" y="401.10" width="11.20" height="14.10" fill="#767676" stroke="#333" stroke-width="0.6"/>
<line x1="570.05" y1="287.50" x2="570.05" y2="303.20" stroke="#6a6a6a" stroke-width="1"/>
<line x1="567.75" y1="287.50" x2="572.35" y2="287.50" stroke="#333" stroke-width="1"/>
<rect x="563.90" y="303.20" width="12.30" height="112.00" fill="#000" stroke="#000" stroke-width="0.6"/>
<line x1="581.85" y1="370.70" x2="581.85" y2="381.20" stroke="#6a6a6a" stroke-width="1"/>
<line x1="579.55" y1="370.70" x2="584.15" y2="370.70" stroke="#333" stroke-width="1"/>
<rect x="576.20" y="381.20" width="11.30" height="34.00" fill="#767676" stroke="#333" stroke-width="0.6"/>
<line x1="597.80" y1="308.10" x2="597.80" y2="318.60" stroke="#6a6a6a" stroke-width="1"/>
<line x1="595.50" y1="308.10" x2="600.10" y2="308.10" stroke="#333" stroke-width="1"/>
<rect x="592.00" y="318.60" width="11.60" height="96.60" fill="#000" stroke="#000" stroke-width="0.6"/>
<line x1="609.25" y1="336.20" x2="609.25" y2="354.20" stroke="#6a6a6a" stroke-width="1"/>
<line x1="606.95" y1="336.20" x2="611.55" y2="336.20" stroke="#333" stroke-width="1"/>
<rect x="603.60" y="354.20" width="11.30" height="61.00" fill="#767676" stroke="#333" stroke-width="0.6"/>
<line x1="625.40" y1="316.40" x2="625.40" y2="328.70" stroke="#6a6a6a" stroke-width="1"/>
<line x1="623.10" y1="316.40" x2="627.70" y2="316.40" stroke="#333" stroke-width="1"/>
<rect x="619.40" y="328.70" width="12.00" height="86.50" fill="#000" stroke="#000" stroke-width="0.6"/>
<line x1="637.20" y1="288.60" x2="637.20" y2="311.10" stroke="#6a6a6a" stroke-width="1"/>
<line x1="634.90" y1="288.60" x2="639.50" y2="288.60" stroke="#333" stroke-width="1"/>
<rect x="631.40" y="311.10" width="11.60" height="104.10" fill="#767676" stroke="#333" stroke-width="0.6"/>
<path d="M637.20 282.60L637.20 280.20M637.20 283.40L637.20 285.80M637.55 282.80L640.23 281.25M636.85 282.80L634.17 281.25M636.85 283.20L634.17 284.75M637.55 283.20L640.23 284.75" stroke="#777" stroke-width="1.15" fill="none" stroke-linecap="round"/>
<path d="M637.20 275.10L637.20 272.70M637.20 275.90L637.20 278.30M637.55 275.30L640.23 273.75M636.85 275.30L634.17 273.75M636.85 275.70L634.17 277.25M637.55 275.70L640.23 277.25" stroke="#777" stroke-width="1.15" fill="none" stroke-linecap="round"/>
<text x="0.00" y="0.00" font-size="15.5" text-anchor="start" fill="#000" transform="translate(508.2,439.0) rotate(-90)">Facilitation slope (folds/sec)</text>
<text x="0.00" y="0.00" font-size="15.5" text-anchor="start" fill="#000" transform="translate(684.4,448.2) rotate(-90)">Augmentation slope (folds/sec)</text>
<rect x="496.4" y="450.8" width="11.3" height="12.5" fill="#000"/>
<rect x="676.5" y="450.8" width="11.7" height="12.5" fill="#767676" stroke="#333" stroke-width="0.6"/>
<text x="0.00" y="0.00" font-size="16" text-anchor="end" fill="#000" font-style="italic" transform="translate(551.10,432.70) rotate(-51)">WT</text>
<text x="0.00" y="0.00" font-size="16" text-anchor="end" fill="#000" font-style="italic" transform="translate(578.40,432.70) rotate(-51)">dlg <tspan font-size="12" dy="-7">XI-2</tspan></text>
<text x="0.00" y="0.00" font-size="16" text-anchor="end" fill="#000" font-style="italic" transform="translate(606.10,432.70) rotate(-51)">dlgS97<tspan font-size="12" dy="-7" dx="0.8">5</tspan></text>
<text x="0.00" y="0.00" font-size="16" text-anchor="end" fill="#000" font-style="italic" transform="translate(634.40,432.70) rotate(-51)">dlgA <tspan font-size="12" dy="-7">40.2</tspan></text>
</svg>
</body></html>
